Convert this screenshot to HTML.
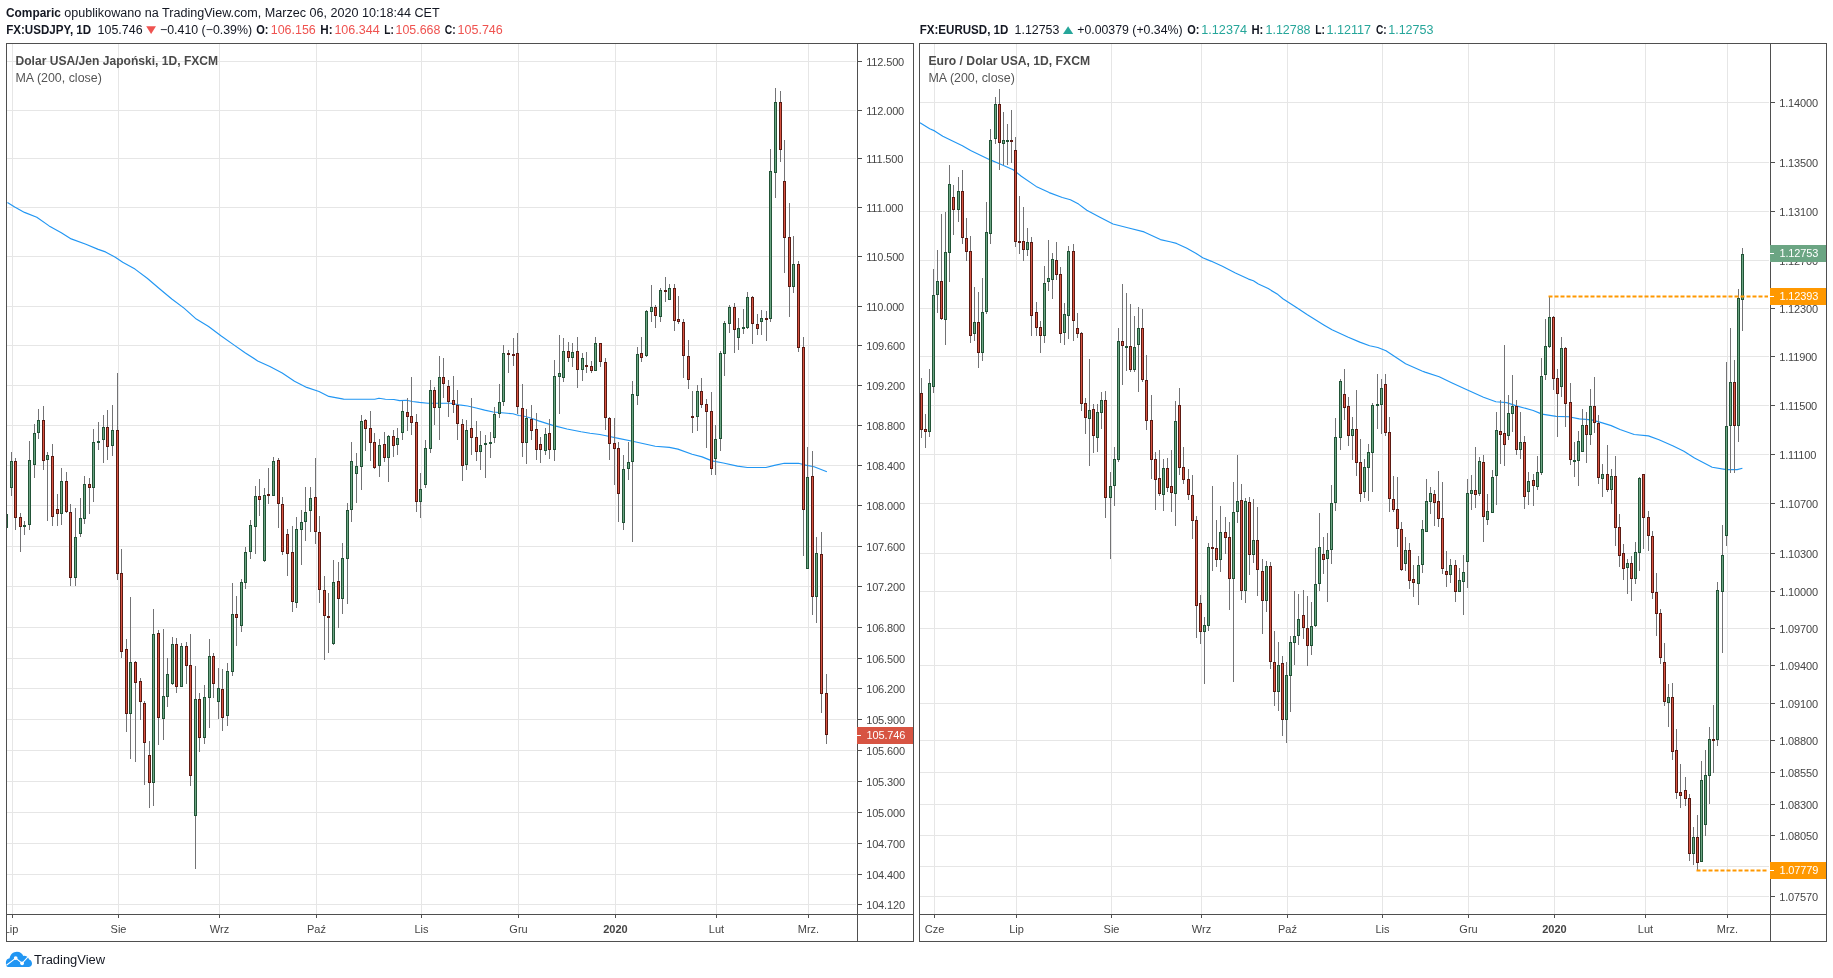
<!DOCTYPE html>
<html><head><meta charset="utf-8"><title>Comparic USDJPY EURUSD</title>
<style>
html,body{margin:0;padding:0;background:#fff;}
body{width:1833px;height:978px;overflow:hidden;position:relative;}
svg{position:absolute;left:0;top:0;will-change:transform;}
text{font-family:"Liberation Sans", Arial, sans-serif;}
.h1{font-size:12.5px;fill:#131722;}
.pl{font-size:11px;fill:#454545;letter-spacing:-0.15px;}
.tl{font-size:11px;fill:#454545;}
.tlb{font-size:11px;fill:#454545;font-weight:bold;}
.tt{font-size:12px;fill:#4a4a4a;font-weight:bold;}
.ma{font-size:12px;fill:#555;}
.h{font-size:12.5px;fill:#131722;}
.hb{font-size:12.5px;fill:#131722;font-weight:bold;}
.lg{font-size:12.5px;fill:#131722;}
</style></head><body>
<svg width="1833" height="978" viewBox="0 0 1833 978" shape-rendering="crispEdges">
<defs>
<clipPath id="cl"><rect x="7" y="44" width="850" height="870"/></clipPath>
<clipPath id="cr"><rect x="920" y="44" width="850" height="870"/></clipPath>
<clipPath id="tcl"><rect x="7" y="915" width="850" height="26"/></clipPath>
<clipPath id="tcr"><rect x="920" y="915" width="850" height="26"/></clipPath>
</defs>
<text x="6.0" y="16.7" class="hb" textLength="54.9" lengthAdjust="spacingAndGlyphs">Comparic</text>
<text x="64.3" y="16.7" class="h" textLength="375.3" lengthAdjust="spacingAndGlyphs">opublikowano na TradingView.com, Marzec 06, 2020 10:18:44 CET</text>
<text x="6.2" y="33.9" class="hb" textLength="85.0" lengthAdjust="spacingAndGlyphs">FX:USDJPY, 1D</text>
<text x="97.6" y="33.9" class="h" textLength="45.0" lengthAdjust="spacingAndGlyphs">105.746</text>
<polygon points="146.2,26.2 156,26.2 151.1,34" fill="#ef5350" shape-rendering="geometricPrecision"/>
<text x="160.0" y="33.9" class="h" textLength="92.1" lengthAdjust="spacingAndGlyphs">−0.410 (−0.39%)</text>
<text x="256.2" y="33.9" class="hb" textLength="12.3" lengthAdjust="spacingAndGlyphs">O:</text>
<text x="270.7" y="33.9" class="h" textLength="45.1" lengthAdjust="spacingAndGlyphs" style="fill:#ef5350">106.156</text>
<text x="320.3" y="33.9" class="hb" textLength="12.3" lengthAdjust="spacingAndGlyphs">H:</text>
<text x="334.4" y="33.9" class="h" textLength="45.3" lengthAdjust="spacingAndGlyphs" style="fill:#ef5350">106.344</text>
<text x="384.3" y="33.9" class="hb" textLength="9.5" lengthAdjust="spacingAndGlyphs">L:</text>
<text x="395.5" y="33.9" class="h" textLength="44.9" lengthAdjust="spacingAndGlyphs" style="fill:#ef5350">105.668</text>
<text x="444.8" y="33.9" class="hb" textLength="10.9" lengthAdjust="spacingAndGlyphs">C:</text>
<text x="457.5" y="33.9" class="h" textLength="45.3" lengthAdjust="spacingAndGlyphs" style="fill:#ef5350">105.746</text>
<text x="919.7" y="33.9" class="hb" textLength="88.7" lengthAdjust="spacingAndGlyphs">FX:EURUSD, 1D</text>
<text x="1014.6" y="33.9" class="h" textLength="44.8" lengthAdjust="spacingAndGlyphs">1.12753</text>
<polygon points="1068.1,26.2 1073.2,34 1063,34" fill="#26a69a" shape-rendering="geometricPrecision"/>
<text x="1077.2" y="33.9" class="h" textLength="105.4" lengthAdjust="spacingAndGlyphs">+0.00379 (+0.34%)</text>
<text x="1187.2" y="33.9" class="hb" textLength="12.2" lengthAdjust="spacingAndGlyphs">O:</text>
<text x="1201.3" y="33.9" class="h" textLength="45.7" lengthAdjust="spacingAndGlyphs" style="fill:#26a69a">1.12374</text>
<text x="1251.4" y="33.9" class="hb" textLength="11.9" lengthAdjust="spacingAndGlyphs">H:</text>
<text x="1265.5" y="33.9" class="h" textLength="45.0" lengthAdjust="spacingAndGlyphs" style="fill:#26a69a">1.12788</text>
<text x="1315.3" y="33.9" class="hb" textLength="9.7" lengthAdjust="spacingAndGlyphs">L:</text>
<text x="1326.5" y="33.9" class="h" textLength="44.6" lengthAdjust="spacingAndGlyphs" style="fill:#26a69a">1.12117</text>
<text x="1376.0" y="33.9" class="hb" textLength="10.7" lengthAdjust="spacingAndGlyphs">C:</text>
<text x="1388.2" y="33.9" class="h" textLength="45.3" lengthAdjust="spacingAndGlyphs" style="fill:#26a69a">1.12753</text>
<rect x="7" y="61" width="849" height="1" fill="#e6e6e6"/>
<rect x="7" y="110" width="849" height="1" fill="#e6e6e6"/>
<rect x="7" y="158" width="849" height="1" fill="#e6e6e6"/>
<rect x="7" y="207" width="849" height="1" fill="#e6e6e6"/>
<rect x="7" y="256" width="849" height="1" fill="#e6e6e6"/>
<rect x="7" y="306" width="849" height="1" fill="#e6e6e6"/>
<rect x="7" y="345" width="849" height="1" fill="#e6e6e6"/>
<rect x="7" y="385" width="849" height="1" fill="#e6e6e6"/>
<rect x="7" y="425" width="849" height="1" fill="#e6e6e6"/>
<rect x="7" y="465" width="849" height="1" fill="#e6e6e6"/>
<rect x="7" y="505" width="849" height="1" fill="#e6e6e6"/>
<rect x="7" y="546" width="849" height="1" fill="#e6e6e6"/>
<rect x="7" y="586" width="849" height="1" fill="#e6e6e6"/>
<rect x="7" y="627" width="849" height="1" fill="#e6e6e6"/>
<rect x="7" y="658" width="849" height="1" fill="#e6e6e6"/>
<rect x="7" y="688" width="849" height="1" fill="#e6e6e6"/>
<rect x="7" y="719" width="849" height="1" fill="#e6e6e6"/>
<rect x="7" y="750" width="849" height="1" fill="#e6e6e6"/>
<rect x="7" y="781" width="849" height="1" fill="#e6e6e6"/>
<rect x="7" y="812" width="849" height="1" fill="#e6e6e6"/>
<rect x="7" y="843" width="849" height="1" fill="#e6e6e6"/>
<rect x="7" y="874" width="849" height="1" fill="#e6e6e6"/>
<rect x="7" y="904" width="849" height="1" fill="#e6e6e6"/>
<rect x="12" y="44" width="1" height="870" fill="#e6e6e6"/>
<rect x="118" y="44" width="1" height="870" fill="#e6e6e6"/>
<rect x="219" y="44" width="1" height="870" fill="#e6e6e6"/>
<rect x="316" y="44" width="1" height="870" fill="#e6e6e6"/>
<rect x="421" y="44" width="1" height="870" fill="#e6e6e6"/>
<rect x="518" y="44" width="1" height="870" fill="#e6e6e6"/>
<rect x="615" y="44" width="1" height="870" fill="#e6e6e6"/>
<rect x="716" y="44" width="1" height="870" fill="#e6e6e6"/>
<rect x="808" y="44" width="1" height="870" fill="#e6e6e6"/>
<g clip-path="url(#cl)"><polyline points="7.4,202.6 14.7,207.0 24.5,212.4 36.8,217.3 49.1,225.9 61.3,232.8 71.2,238.9 85.9,244.3 98.2,249.4 105.5,251.9 115.3,257.3 122.7,262.2 135.0,269.1 147.2,278.2 159.5,288.7 171.8,299.0 184.0,308.1 196.3,319.1 208.6,326.5 220.9,335.8 233.1,344.4 245.4,353.0 257.7,360.9 269.9,366.5 282.2,373.1 294.5,381.2 306.7,387.4 319.0,391.5 328.8,396.4 343.6,399.1 374.8,399.2 379.0,398.2 385.4,399.2 393.9,399.5 399.6,400.6 406.7,400.3 412.3,401.5 419.4,402.4 428.0,403.2 450.6,403.2 459.1,404.9 467.7,406.0 476.2,408.0 484.7,410.1 493.2,412.0 501.7,412.7 513.0,413.8 518.7,415.5 524.4,416.2 531.5,418.3 538.6,420.9 552.8,425.4 567.0,429.0 581.1,431.8 590.0,433.2 599.9,434.5 608.4,436.3 618.4,438.4 632.6,441.3 643.9,443.8 655.2,446.2 669.4,447.4 677.9,449.1 692.1,454.3 702.1,456.9 712.0,460.9 723.3,463.0 737.5,466.1 747.4,467.5 765.9,467.5 774.4,465.4 784.3,463.3 798.5,463.3 805.6,465.1 814.1,466.8 826.9,471.8" fill="none" stroke="#2196f3" stroke-width="1.15" shape-rendering="geometricPrecision" stroke-linejoin="round"/></g>
<g clip-path="url(#cl)">
<rect x="6" y="505" width="1" height="27" fill="#737375"/>
<rect x="11" y="452" width="1" height="44" fill="#737375"/>
<rect x="15" y="458" width="1" height="72" fill="#737375"/>
<rect x="20" y="513" width="1" height="39" fill="#737375"/>
<rect x="24" y="521" width="1" height="14" fill="#737375"/>
<rect x="29" y="441" width="1" height="89" fill="#737375"/>
<rect x="34" y="424" width="1" height="54" fill="#737375"/>
<rect x="38" y="409" width="1" height="30" fill="#737375"/>
<rect x="43" y="406" width="1" height="64" fill="#737375"/>
<rect x="47" y="452" width="1" height="69" fill="#737375"/>
<rect x="52" y="444" width="1" height="82" fill="#737375"/>
<rect x="57" y="494" width="1" height="32" fill="#737375"/>
<rect x="61" y="468" width="1" height="57" fill="#737375"/>
<rect x="66" y="472" width="1" height="41" fill="#737375"/>
<rect x="70" y="504" width="1" height="82" fill="#737375"/>
<rect x="75" y="508" width="1" height="78" fill="#737375"/>
<rect x="80" y="498" width="1" height="39" fill="#737375"/>
<rect x="84" y="476" width="1" height="48" fill="#737375"/>
<rect x="89" y="478" width="1" height="36" fill="#737375"/>
<rect x="93" y="429" width="1" height="73" fill="#737375"/>
<rect x="98" y="422" width="1" height="28" fill="#737375"/>
<rect x="103" y="415" width="1" height="48" fill="#737375"/>
<rect x="107" y="410" width="1" height="50" fill="#737375"/>
<rect x="112" y="405" width="1" height="51" fill="#737375"/>
<rect x="117" y="373" width="1" height="207" fill="#737375"/>
<rect x="121" y="549" width="1" height="109" fill="#737375"/>
<rect x="126" y="639" width="1" height="93" fill="#737375"/>
<rect x="130" y="597" width="1" height="162" fill="#737375"/>
<rect x="135" y="661" width="1" height="101" fill="#737375"/>
<rect x="140" y="678" width="1" height="42" fill="#737375"/>
<rect x="144" y="701" width="1" height="84" fill="#737375"/>
<rect x="149" y="741" width="1" height="67" fill="#737375"/>
<rect x="153" y="609" width="1" height="197" fill="#737375"/>
<rect x="158" y="630" width="1" height="115" fill="#737375"/>
<rect x="163" y="629" width="1" height="111" fill="#737375"/>
<rect x="167" y="658" width="1" height="49" fill="#737375"/>
<rect x="172" y="637" width="1" height="48" fill="#737375"/>
<rect x="176" y="638" width="1" height="55" fill="#737375"/>
<rect x="181" y="643" width="1" height="44" fill="#737375"/>
<rect x="186" y="642" width="1" height="42" fill="#737375"/>
<rect x="190" y="634" width="1" height="152" fill="#737375"/>
<rect x="195" y="666" width="1" height="203" fill="#737375"/>
<rect x="199" y="693" width="1" height="59" fill="#737375"/>
<rect x="204" y="685" width="1" height="59" fill="#737375"/>
<rect x="209" y="639" width="1" height="89" fill="#737375"/>
<rect x="213" y="653" width="1" height="45" fill="#737375"/>
<rect x="218" y="668" width="1" height="51" fill="#737375"/>
<rect x="222" y="669" width="1" height="62" fill="#737375"/>
<rect x="227" y="663" width="1" height="63" fill="#737375"/>
<rect x="232" y="583" width="1" height="93" fill="#737375"/>
<rect x="236" y="596" width="1" height="50" fill="#737375"/>
<rect x="241" y="579" width="1" height="53" fill="#737375"/>
<rect x="245" y="547" width="1" height="42" fill="#737375"/>
<rect x="250" y="520" width="1" height="39" fill="#737375"/>
<rect x="255" y="486" width="1" height="68" fill="#737375"/>
<rect x="259" y="479" width="1" height="37" fill="#737375"/>
<rect x="264" y="488" width="1" height="74" fill="#737375"/>
<rect x="268" y="468" width="1" height="36" fill="#737375"/>
<rect x="273" y="457" width="1" height="39" fill="#737375"/>
<rect x="278" y="458" width="1" height="70" fill="#737375"/>
<rect x="282" y="497" width="1" height="58" fill="#737375"/>
<rect x="287" y="529" width="1" height="47" fill="#737375"/>
<rect x="292" y="526" width="1" height="86" fill="#737375"/>
<rect x="296" y="517" width="1" height="91" fill="#737375"/>
<rect x="301" y="510" width="1" height="55" fill="#737375"/>
<rect x="305" y="487" width="1" height="54" fill="#737375"/>
<rect x="310" y="487" width="1" height="45" fill="#737375"/>
<rect x="315" y="458" width="1" height="86" fill="#737375"/>
<rect x="319" y="516" width="1" height="87" fill="#737375"/>
<rect x="324" y="576" width="1" height="84" fill="#737375"/>
<rect x="328" y="593" width="1" height="60" fill="#737375"/>
<rect x="333" y="560" width="1" height="85" fill="#737375"/>
<rect x="338" y="562" width="1" height="66" fill="#737375"/>
<rect x="342" y="543" width="1" height="71" fill="#737375"/>
<rect x="347" y="503" width="1" height="101" fill="#737375"/>
<rect x="351" y="442" width="1" height="80" fill="#737375"/>
<rect x="356" y="453" width="1" height="50" fill="#737375"/>
<rect x="361" y="415" width="1" height="75" fill="#737375"/>
<rect x="365" y="419" width="1" height="32" fill="#737375"/>
<rect x="370" y="411" width="1" height="50" fill="#737375"/>
<rect x="374" y="433" width="1" height="36" fill="#737375"/>
<rect x="379" y="439" width="1" height="38" fill="#737375"/>
<rect x="384" y="432" width="1" height="30" fill="#737375"/>
<rect x="388" y="435" width="1" height="47" fill="#737375"/>
<rect x="393" y="430" width="1" height="27" fill="#737375"/>
<rect x="397" y="428" width="1" height="27" fill="#737375"/>
<rect x="402" y="401" width="1" height="39" fill="#737375"/>
<rect x="407" y="398" width="1" height="33" fill="#737375"/>
<rect x="411" y="377" width="1" height="58" fill="#737375"/>
<rect x="416" y="414" width="1" height="98" fill="#737375"/>
<rect x="420" y="473" width="1" height="45" fill="#737375"/>
<rect x="425" y="440" width="1" height="48" fill="#737375"/>
<rect x="430" y="380" width="1" height="73" fill="#737375"/>
<rect x="434" y="387" width="1" height="38" fill="#737375"/>
<rect x="439" y="356" width="1" height="84" fill="#737375"/>
<rect x="443" y="358" width="1" height="40" fill="#737375"/>
<rect x="448" y="380" width="1" height="37" fill="#737375"/>
<rect x="453" y="376" width="1" height="37" fill="#737375"/>
<rect x="457" y="390" width="1" height="50" fill="#737375"/>
<rect x="462" y="419" width="1" height="62" fill="#737375"/>
<rect x="466" y="420" width="1" height="50" fill="#737375"/>
<rect x="471" y="398" width="1" height="57" fill="#737375"/>
<rect x="476" y="421" width="1" height="40" fill="#737375"/>
<rect x="480" y="431" width="1" height="39" fill="#737375"/>
<rect x="485" y="435" width="1" height="43" fill="#737375"/>
<rect x="490" y="432" width="1" height="26" fill="#737375"/>
<rect x="494" y="407" width="1" height="36" fill="#737375"/>
<rect x="499" y="384" width="1" height="34" fill="#737375"/>
<rect x="503" y="345" width="1" height="61" fill="#737375"/>
<rect x="508" y="350" width="1" height="23" fill="#737375"/>
<rect x="513" y="338" width="1" height="28" fill="#737375"/>
<rect x="517" y="333" width="1" height="81" fill="#737375"/>
<rect x="522" y="384" width="1" height="73" fill="#737375"/>
<rect x="526" y="409" width="1" height="55" fill="#737375"/>
<rect x="531" y="405" width="1" height="35" fill="#737375"/>
<rect x="536" y="413" width="1" height="47" fill="#737375"/>
<rect x="540" y="437" width="1" height="26" fill="#737375"/>
<rect x="545" y="428" width="1" height="27" fill="#737375"/>
<rect x="549" y="419" width="1" height="40" fill="#737375"/>
<rect x="554" y="360" width="1" height="101" fill="#737375"/>
<rect x="559" y="335" width="1" height="79" fill="#737375"/>
<rect x="563" y="338" width="1" height="44" fill="#737375"/>
<rect x="568" y="342" width="1" height="20" fill="#737375"/>
<rect x="572" y="343" width="1" height="24" fill="#737375"/>
<rect x="577" y="337" width="1" height="51" fill="#737375"/>
<rect x="582" y="353" width="1" height="28" fill="#737375"/>
<rect x="586" y="352" width="1" height="21" fill="#737375"/>
<rect x="591" y="361" width="1" height="12" fill="#737375"/>
<rect x="595" y="337" width="1" height="34" fill="#737375"/>
<rect x="600" y="343" width="1" height="24" fill="#737375"/>
<rect x="605" y="358" width="1" height="72" fill="#737375"/>
<rect x="609" y="417" width="1" height="43" fill="#737375"/>
<rect x="614" y="418" width="1" height="67" fill="#737375"/>
<rect x="618" y="442" width="1" height="80" fill="#737375"/>
<rect x="623" y="455" width="1" height="75" fill="#737375"/>
<rect x="628" y="442" width="1" height="38" fill="#737375"/>
<rect x="632" y="381" width="1" height="161" fill="#737375"/>
<rect x="637" y="347" width="1" height="58" fill="#737375"/>
<rect x="641" y="337" width="1" height="25" fill="#737375"/>
<rect x="646" y="310" width="1" height="47" fill="#737375"/>
<rect x="651" y="285" width="1" height="37" fill="#737375"/>
<rect x="655" y="305" width="1" height="23" fill="#737375"/>
<rect x="660" y="288" width="1" height="34" fill="#737375"/>
<rect x="665" y="277" width="1" height="25" fill="#737375"/>
<rect x="669" y="284" width="1" height="16" fill="#737375"/>
<rect x="674" y="284" width="1" height="47" fill="#737375"/>
<rect x="678" y="296" width="1" height="28" fill="#737375"/>
<rect x="683" y="319" width="1" height="59" fill="#737375"/>
<rect x="688" y="340" width="1" height="49" fill="#737375"/>
<rect x="692" y="391" width="1" height="42" fill="#737375"/>
<rect x="697" y="385" width="1" height="46" fill="#737375"/>
<rect x="701" y="378" width="1" height="30" fill="#737375"/>
<rect x="706" y="399" width="1" height="49" fill="#737375"/>
<rect x="711" y="392" width="1" height="83" fill="#737375"/>
<rect x="715" y="425" width="1" height="50" fill="#737375"/>
<rect x="720" y="351" width="1" height="100" fill="#737375"/>
<rect x="724" y="321" width="1" height="55" fill="#737375"/>
<rect x="729" y="305" width="1" height="28" fill="#737375"/>
<rect x="734" y="303" width="1" height="50" fill="#737375"/>
<rect x="738" y="318" width="1" height="32" fill="#737375"/>
<rect x="743" y="309" width="1" height="25" fill="#737375"/>
<rect x="747" y="292" width="1" height="37" fill="#737375"/>
<rect x="752" y="296" width="1" height="48" fill="#737375"/>
<rect x="757" y="314" width="1" height="21" fill="#737375"/>
<rect x="761" y="310" width="1" height="25" fill="#737375"/>
<rect x="766" y="311" width="1" height="30" fill="#737375"/>
<rect x="770" y="149" width="1" height="173" fill="#737375"/>
<rect x="775" y="88" width="1" height="110" fill="#737375"/>
<rect x="780" y="91" width="1" height="71" fill="#737375"/>
<rect x="784" y="140" width="1" height="133" fill="#737375"/>
<rect x="789" y="203" width="1" height="114" fill="#737375"/>
<rect x="793" y="236" width="1" height="57" fill="#737375"/>
<rect x="798" y="261" width="1" height="91" fill="#737375"/>
<rect x="803" y="337" width="1" height="219" fill="#737375"/>
<rect x="807" y="447" width="1" height="122" fill="#737375"/>
<rect x="812" y="451" width="1" height="164" fill="#737375"/>
<rect x="816" y="537" width="1" height="86" fill="#737375"/>
<rect x="821" y="532" width="1" height="181" fill="#737375"/>
<rect x="826" y="674" width="1" height="70" fill="#737375"/>
<rect x="5" y="514" width="3" height="14" fill="#225437"/>
<rect x="6" y="515" width="1" height="12" fill="#6ba583"/>
<rect x="10" y="461" width="3" height="27" fill="#225437"/>
<rect x="11" y="462" width="1" height="25" fill="#6ba583"/>
<rect x="14" y="461" width="3" height="57" fill="#5b1a13"/>
<rect x="15" y="462" width="1" height="55" fill="#d75442"/>
<rect x="19" y="517" width="3" height="10" fill="#5b1a13"/>
<rect x="20" y="518" width="1" height="8" fill="#d75442"/>
<rect x="23" y="525" width="3" height="2" fill="#225437"/>
<rect x="28" y="460" width="3" height="65" fill="#225437"/>
<rect x="29" y="461" width="1" height="63" fill="#6ba583"/>
<rect x="33" y="433" width="3" height="32" fill="#225437"/>
<rect x="34" y="434" width="1" height="30" fill="#6ba583"/>
<rect x="37" y="420" width="3" height="13" fill="#225437"/>
<rect x="38" y="421" width="1" height="11" fill="#6ba583"/>
<rect x="42" y="420" width="3" height="41" fill="#5b1a13"/>
<rect x="43" y="421" width="1" height="39" fill="#d75442"/>
<rect x="46" y="455" width="3" height="5" fill="#225437"/>
<rect x="47" y="456" width="1" height="3" fill="#6ba583"/>
<rect x="51" y="456" width="3" height="61" fill="#5b1a13"/>
<rect x="52" y="457" width="1" height="59" fill="#d75442"/>
<rect x="56" y="509" width="3" height="5" fill="#5b1a13"/>
<rect x="57" y="510" width="1" height="3" fill="#d75442"/>
<rect x="60" y="481" width="3" height="33" fill="#225437"/>
<rect x="61" y="482" width="1" height="31" fill="#6ba583"/>
<rect x="65" y="481" width="3" height="31" fill="#5b1a13"/>
<rect x="66" y="482" width="1" height="29" fill="#d75442"/>
<rect x="69" y="512" width="3" height="66" fill="#5b1a13"/>
<rect x="70" y="513" width="1" height="64" fill="#d75442"/>
<rect x="74" y="537" width="3" height="41" fill="#225437"/>
<rect x="75" y="538" width="1" height="39" fill="#6ba583"/>
<rect x="79" y="518" width="3" height="16" fill="#225437"/>
<rect x="80" y="519" width="1" height="14" fill="#6ba583"/>
<rect x="83" y="484" width="3" height="35" fill="#225437"/>
<rect x="84" y="485" width="1" height="33" fill="#6ba583"/>
<rect x="88" y="484" width="3" height="4" fill="#5b1a13"/>
<rect x="89" y="485" width="1" height="2" fill="#d75442"/>
<rect x="92" y="442" width="3" height="46" fill="#225437"/>
<rect x="93" y="443" width="1" height="44" fill="#6ba583"/>
<rect x="97" y="441" width="3" height="2" fill="#225437"/>
<rect x="102" y="427" width="3" height="13" fill="#225437"/>
<rect x="103" y="428" width="1" height="11" fill="#6ba583"/>
<rect x="106" y="427" width="3" height="20" fill="#5b1a13"/>
<rect x="107" y="428" width="1" height="18" fill="#d75442"/>
<rect x="111" y="430" width="3" height="16" fill="#225437"/>
<rect x="112" y="431" width="1" height="14" fill="#6ba583"/>
<rect x="116" y="430" width="3" height="144" fill="#5b1a13"/>
<rect x="117" y="431" width="1" height="142" fill="#d75442"/>
<rect x="120" y="573" width="3" height="79" fill="#5b1a13"/>
<rect x="121" y="574" width="1" height="77" fill="#d75442"/>
<rect x="125" y="649" width="3" height="65" fill="#5b1a13"/>
<rect x="126" y="650" width="1" height="63" fill="#d75442"/>
<rect x="129" y="662" width="3" height="52" fill="#225437"/>
<rect x="130" y="663" width="1" height="50" fill="#6ba583"/>
<rect x="134" y="662" width="3" height="21" fill="#5b1a13"/>
<rect x="135" y="663" width="1" height="19" fill="#d75442"/>
<rect x="139" y="681" width="3" height="21" fill="#5b1a13"/>
<rect x="140" y="682" width="1" height="19" fill="#d75442"/>
<rect x="143" y="703" width="3" height="40" fill="#5b1a13"/>
<rect x="144" y="704" width="1" height="38" fill="#d75442"/>
<rect x="148" y="755" width="3" height="28" fill="#5b1a13"/>
<rect x="149" y="756" width="1" height="26" fill="#d75442"/>
<rect x="152" y="634" width="3" height="149" fill="#225437"/>
<rect x="153" y="635" width="1" height="147" fill="#6ba583"/>
<rect x="157" y="633" width="3" height="85" fill="#5b1a13"/>
<rect x="158" y="634" width="1" height="83" fill="#d75442"/>
<rect x="162" y="696" width="3" height="23" fill="#225437"/>
<rect x="163" y="697" width="1" height="21" fill="#6ba583"/>
<rect x="166" y="674" width="3" height="23" fill="#225437"/>
<rect x="167" y="675" width="1" height="21" fill="#6ba583"/>
<rect x="171" y="644" width="3" height="40" fill="#225437"/>
<rect x="172" y="645" width="1" height="38" fill="#6ba583"/>
<rect x="175" y="644" width="3" height="43" fill="#5b1a13"/>
<rect x="176" y="645" width="1" height="41" fill="#d75442"/>
<rect x="180" y="646" width="3" height="41" fill="#225437"/>
<rect x="181" y="647" width="1" height="39" fill="#6ba583"/>
<rect x="185" y="646" width="3" height="20" fill="#5b1a13"/>
<rect x="186" y="647" width="1" height="18" fill="#d75442"/>
<rect x="189" y="665" width="3" height="111" fill="#5b1a13"/>
<rect x="190" y="666" width="1" height="109" fill="#d75442"/>
<rect x="194" y="699" width="3" height="117" fill="#225437"/>
<rect x="195" y="700" width="1" height="115" fill="#6ba583"/>
<rect x="198" y="699" width="3" height="39" fill="#5b1a13"/>
<rect x="199" y="700" width="1" height="37" fill="#d75442"/>
<rect x="203" y="697" width="3" height="41" fill="#225437"/>
<rect x="204" y="698" width="1" height="39" fill="#6ba583"/>
<rect x="208" y="656" width="3" height="42" fill="#225437"/>
<rect x="209" y="657" width="1" height="40" fill="#6ba583"/>
<rect x="212" y="656" width="3" height="28" fill="#5b1a13"/>
<rect x="213" y="657" width="1" height="26" fill="#d75442"/>
<rect x="217" y="688" width="3" height="14" fill="#225437"/>
<rect x="218" y="689" width="1" height="12" fill="#6ba583"/>
<rect x="221" y="689" width="3" height="29" fill="#5b1a13"/>
<rect x="222" y="690" width="1" height="27" fill="#d75442"/>
<rect x="226" y="671" width="3" height="45" fill="#225437"/>
<rect x="227" y="672" width="1" height="43" fill="#6ba583"/>
<rect x="231" y="614" width="3" height="58" fill="#225437"/>
<rect x="232" y="615" width="1" height="56" fill="#6ba583"/>
<rect x="235" y="614" width="3" height="4" fill="#5b1a13"/>
<rect x="236" y="615" width="1" height="2" fill="#d75442"/>
<rect x="240" y="582" width="3" height="44" fill="#225437"/>
<rect x="241" y="583" width="1" height="42" fill="#6ba583"/>
<rect x="244" y="552" width="3" height="31" fill="#225437"/>
<rect x="245" y="553" width="1" height="29" fill="#6ba583"/>
<rect x="249" y="525" width="3" height="27" fill="#225437"/>
<rect x="250" y="526" width="1" height="25" fill="#6ba583"/>
<rect x="254" y="496" width="3" height="31" fill="#225437"/>
<rect x="255" y="497" width="1" height="29" fill="#6ba583"/>
<rect x="258" y="496" width="3" height="4" fill="#5b1a13"/>
<rect x="259" y="497" width="1" height="2" fill="#d75442"/>
<rect x="263" y="495" width="3" height="66" fill="#225437"/>
<rect x="264" y="496" width="1" height="64" fill="#6ba583"/>
<rect x="267" y="494" width="3" height="2" fill="#5b1a13"/>
<rect x="272" y="461" width="3" height="35" fill="#225437"/>
<rect x="273" y="462" width="1" height="33" fill="#6ba583"/>
<rect x="277" y="460" width="3" height="44" fill="#5b1a13"/>
<rect x="278" y="461" width="1" height="42" fill="#d75442"/>
<rect x="281" y="504" width="3" height="48" fill="#5b1a13"/>
<rect x="282" y="505" width="1" height="46" fill="#d75442"/>
<rect x="286" y="534" width="3" height="20" fill="#5b1a13"/>
<rect x="287" y="535" width="1" height="18" fill="#d75442"/>
<rect x="291" y="552" width="3" height="50" fill="#5b1a13"/>
<rect x="292" y="553" width="1" height="48" fill="#d75442"/>
<rect x="295" y="529" width="3" height="74" fill="#225437"/>
<rect x="296" y="530" width="1" height="72" fill="#6ba583"/>
<rect x="300" y="522" width="3" height="8" fill="#225437"/>
<rect x="301" y="523" width="1" height="6" fill="#6ba583"/>
<rect x="304" y="512" width="3" height="10" fill="#225437"/>
<rect x="305" y="513" width="1" height="8" fill="#6ba583"/>
<rect x="309" y="498" width="3" height="13" fill="#225437"/>
<rect x="310" y="499" width="1" height="11" fill="#6ba583"/>
<rect x="314" y="497" width="3" height="35" fill="#5b1a13"/>
<rect x="315" y="498" width="1" height="33" fill="#d75442"/>
<rect x="318" y="532" width="3" height="58" fill="#5b1a13"/>
<rect x="319" y="533" width="1" height="56" fill="#d75442"/>
<rect x="323" y="590" width="3" height="26" fill="#5b1a13"/>
<rect x="324" y="591" width="1" height="24" fill="#d75442"/>
<rect x="327" y="616" width="3" height="2" fill="#5b1a13"/>
<rect x="332" y="582" width="3" height="62" fill="#225437"/>
<rect x="333" y="583" width="1" height="60" fill="#6ba583"/>
<rect x="337" y="581" width="3" height="18" fill="#5b1a13"/>
<rect x="338" y="582" width="1" height="16" fill="#d75442"/>
<rect x="341" y="558" width="3" height="41" fill="#225437"/>
<rect x="342" y="559" width="1" height="39" fill="#6ba583"/>
<rect x="346" y="510" width="3" height="49" fill="#225437"/>
<rect x="347" y="511" width="1" height="47" fill="#6ba583"/>
<rect x="350" y="461" width="3" height="49" fill="#225437"/>
<rect x="351" y="462" width="1" height="47" fill="#6ba583"/>
<rect x="355" y="466" width="3" height="8" fill="#225437"/>
<rect x="356" y="467" width="1" height="6" fill="#6ba583"/>
<rect x="360" y="421" width="3" height="46" fill="#225437"/>
<rect x="361" y="422" width="1" height="44" fill="#6ba583"/>
<rect x="364" y="420" width="3" height="9" fill="#5b1a13"/>
<rect x="365" y="421" width="1" height="7" fill="#d75442"/>
<rect x="369" y="428" width="3" height="15" fill="#5b1a13"/>
<rect x="370" y="429" width="1" height="13" fill="#d75442"/>
<rect x="373" y="442" width="3" height="26" fill="#5b1a13"/>
<rect x="374" y="443" width="1" height="24" fill="#d75442"/>
<rect x="378" y="445" width="3" height="21" fill="#225437"/>
<rect x="379" y="446" width="1" height="19" fill="#6ba583"/>
<rect x="383" y="444" width="3" height="14" fill="#5b1a13"/>
<rect x="384" y="445" width="1" height="12" fill="#d75442"/>
<rect x="387" y="436" width="3" height="22" fill="#225437"/>
<rect x="388" y="437" width="1" height="20" fill="#6ba583"/>
<rect x="392" y="436" width="3" height="10" fill="#5b1a13"/>
<rect x="393" y="437" width="1" height="8" fill="#d75442"/>
<rect x="396" y="438" width="3" height="7" fill="#225437"/>
<rect x="397" y="439" width="1" height="5" fill="#6ba583"/>
<rect x="401" y="411" width="3" height="22" fill="#225437"/>
<rect x="402" y="412" width="1" height="20" fill="#6ba583"/>
<rect x="406" y="412" width="3" height="5" fill="#5b1a13"/>
<rect x="407" y="413" width="1" height="3" fill="#d75442"/>
<rect x="410" y="416" width="3" height="7" fill="#5b1a13"/>
<rect x="411" y="417" width="1" height="5" fill="#d75442"/>
<rect x="415" y="422" width="3" height="80" fill="#5b1a13"/>
<rect x="416" y="423" width="1" height="78" fill="#d75442"/>
<rect x="419" y="489" width="3" height="13" fill="#225437"/>
<rect x="420" y="490" width="1" height="11" fill="#6ba583"/>
<rect x="424" y="448" width="3" height="37" fill="#225437"/>
<rect x="425" y="449" width="1" height="35" fill="#6ba583"/>
<rect x="429" y="390" width="3" height="59" fill="#225437"/>
<rect x="430" y="391" width="1" height="57" fill="#6ba583"/>
<rect x="433" y="390" width="3" height="18" fill="#5b1a13"/>
<rect x="434" y="391" width="1" height="16" fill="#d75442"/>
<rect x="438" y="377" width="3" height="31" fill="#225437"/>
<rect x="439" y="378" width="1" height="29" fill="#6ba583"/>
<rect x="442" y="377" width="3" height="7" fill="#5b1a13"/>
<rect x="443" y="378" width="1" height="5" fill="#d75442"/>
<rect x="447" y="386" width="3" height="16" fill="#5b1a13"/>
<rect x="448" y="387" width="1" height="14" fill="#d75442"/>
<rect x="452" y="400" width="3" height="5" fill="#5b1a13"/>
<rect x="453" y="401" width="1" height="3" fill="#d75442"/>
<rect x="456" y="405" width="3" height="19" fill="#5b1a13"/>
<rect x="457" y="406" width="1" height="17" fill="#d75442"/>
<rect x="461" y="424" width="3" height="42" fill="#5b1a13"/>
<rect x="462" y="425" width="1" height="40" fill="#d75442"/>
<rect x="465" y="430" width="3" height="35" fill="#225437"/>
<rect x="466" y="431" width="1" height="33" fill="#6ba583"/>
<rect x="470" y="428" width="3" height="10" fill="#5b1a13"/>
<rect x="471" y="429" width="1" height="8" fill="#d75442"/>
<rect x="475" y="437" width="3" height="15" fill="#5b1a13"/>
<rect x="476" y="438" width="1" height="13" fill="#d75442"/>
<rect x="479" y="445" width="3" height="7" fill="#225437"/>
<rect x="480" y="446" width="1" height="5" fill="#6ba583"/>
<rect x="484" y="443" width="3" height="2" fill="#225437"/>
<rect x="489" y="442" width="3" height="2" fill="#225437"/>
<rect x="493" y="414" width="3" height="24" fill="#225437"/>
<rect x="494" y="415" width="1" height="22" fill="#6ba583"/>
<rect x="498" y="402" width="3" height="12" fill="#225437"/>
<rect x="499" y="403" width="1" height="10" fill="#6ba583"/>
<rect x="502" y="353" width="3" height="49" fill="#225437"/>
<rect x="503" y="354" width="1" height="47" fill="#6ba583"/>
<rect x="507" y="353" width="3" height="2" fill="#5b1a13"/>
<rect x="512" y="354" width="3" height="2" fill="#5b1a13"/>
<rect x="516" y="353" width="3" height="54" fill="#5b1a13"/>
<rect x="517" y="354" width="1" height="52" fill="#d75442"/>
<rect x="521" y="408" width="3" height="35" fill="#5b1a13"/>
<rect x="522" y="409" width="1" height="33" fill="#d75442"/>
<rect x="525" y="418" width="3" height="25" fill="#225437"/>
<rect x="526" y="419" width="1" height="23" fill="#6ba583"/>
<rect x="530" y="419" width="3" height="12" fill="#5b1a13"/>
<rect x="531" y="420" width="1" height="10" fill="#d75442"/>
<rect x="535" y="429" width="3" height="21" fill="#5b1a13"/>
<rect x="536" y="430" width="1" height="19" fill="#d75442"/>
<rect x="539" y="444" width="3" height="6" fill="#5b1a13"/>
<rect x="540" y="445" width="1" height="4" fill="#d75442"/>
<rect x="544" y="434" width="3" height="17" fill="#225437"/>
<rect x="545" y="435" width="1" height="15" fill="#6ba583"/>
<rect x="548" y="433" width="3" height="17" fill="#5b1a13"/>
<rect x="549" y="434" width="1" height="15" fill="#d75442"/>
<rect x="553" y="376" width="3" height="74" fill="#225437"/>
<rect x="554" y="377" width="1" height="72" fill="#6ba583"/>
<rect x="558" y="373" width="3" height="4" fill="#225437"/>
<rect x="559" y="374" width="1" height="2" fill="#6ba583"/>
<rect x="562" y="351" width="3" height="27" fill="#225437"/>
<rect x="563" y="352" width="1" height="25" fill="#6ba583"/>
<rect x="567" y="351" width="3" height="7" fill="#5b1a13"/>
<rect x="568" y="352" width="1" height="5" fill="#d75442"/>
<rect x="571" y="352" width="3" height="6" fill="#225437"/>
<rect x="572" y="353" width="1" height="4" fill="#6ba583"/>
<rect x="576" y="351" width="3" height="19" fill="#5b1a13"/>
<rect x="577" y="352" width="1" height="17" fill="#d75442"/>
<rect x="581" y="358" width="3" height="12" fill="#225437"/>
<rect x="582" y="359" width="1" height="10" fill="#6ba583"/>
<rect x="585" y="365" width="3" height="2" fill="#5b1a13"/>
<rect x="590" y="366" width="3" height="5" fill="#5b1a13"/>
<rect x="591" y="367" width="1" height="3" fill="#d75442"/>
<rect x="594" y="343" width="3" height="28" fill="#225437"/>
<rect x="595" y="344" width="1" height="26" fill="#6ba583"/>
<rect x="599" y="343" width="3" height="19" fill="#5b1a13"/>
<rect x="600" y="344" width="1" height="17" fill="#d75442"/>
<rect x="604" y="362" width="3" height="56" fill="#5b1a13"/>
<rect x="605" y="363" width="1" height="54" fill="#d75442"/>
<rect x="608" y="418" width="3" height="26" fill="#5b1a13"/>
<rect x="609" y="419" width="1" height="24" fill="#d75442"/>
<rect x="613" y="443" width="3" height="6" fill="#5b1a13"/>
<rect x="614" y="444" width="1" height="4" fill="#d75442"/>
<rect x="617" y="448" width="3" height="46" fill="#5b1a13"/>
<rect x="618" y="449" width="1" height="44" fill="#d75442"/>
<rect x="622" y="469" width="3" height="54" fill="#225437"/>
<rect x="623" y="470" width="1" height="52" fill="#6ba583"/>
<rect x="627" y="462" width="3" height="7" fill="#225437"/>
<rect x="628" y="463" width="1" height="5" fill="#6ba583"/>
<rect x="631" y="394" width="3" height="68" fill="#225437"/>
<rect x="632" y="395" width="1" height="66" fill="#6ba583"/>
<rect x="636" y="354" width="3" height="42" fill="#225437"/>
<rect x="637" y="355" width="1" height="40" fill="#6ba583"/>
<rect x="640" y="353" width="3" height="5" fill="#5b1a13"/>
<rect x="641" y="354" width="1" height="3" fill="#d75442"/>
<rect x="645" y="311" width="3" height="45" fill="#225437"/>
<rect x="646" y="312" width="1" height="43" fill="#6ba583"/>
<rect x="650" y="307" width="3" height="5" fill="#225437"/>
<rect x="651" y="308" width="1" height="3" fill="#6ba583"/>
<rect x="654" y="307" width="3" height="9" fill="#5b1a13"/>
<rect x="655" y="308" width="1" height="7" fill="#d75442"/>
<rect x="659" y="290" width="3" height="27" fill="#225437"/>
<rect x="660" y="291" width="1" height="25" fill="#6ba583"/>
<rect x="664" y="290" width="3" height="2" fill="#5b1a13"/>
<rect x="668" y="288" width="3" height="12" fill="#225437"/>
<rect x="669" y="289" width="1" height="10" fill="#6ba583"/>
<rect x="673" y="288" width="3" height="33" fill="#5b1a13"/>
<rect x="674" y="289" width="1" height="31" fill="#d75442"/>
<rect x="677" y="319" width="3" height="3" fill="#5b1a13"/>
<rect x="678" y="320" width="1" height="1" fill="#d75442"/>
<rect x="682" y="322" width="3" height="34" fill="#5b1a13"/>
<rect x="683" y="323" width="1" height="32" fill="#d75442"/>
<rect x="687" y="356" width="3" height="24" fill="#5b1a13"/>
<rect x="688" y="357" width="1" height="22" fill="#d75442"/>
<rect x="691" y="416" width="3" height="2" fill="#5b1a13"/>
<rect x="696" y="391" width="3" height="26" fill="#225437"/>
<rect x="697" y="392" width="1" height="24" fill="#6ba583"/>
<rect x="700" y="391" width="3" height="14" fill="#5b1a13"/>
<rect x="701" y="392" width="1" height="12" fill="#d75442"/>
<rect x="705" y="404" width="3" height="8" fill="#5b1a13"/>
<rect x="706" y="405" width="1" height="6" fill="#d75442"/>
<rect x="710" y="411" width="3" height="58" fill="#5b1a13"/>
<rect x="711" y="412" width="1" height="56" fill="#d75442"/>
<rect x="714" y="439" width="3" height="20" fill="#225437"/>
<rect x="715" y="440" width="1" height="18" fill="#6ba583"/>
<rect x="719" y="353" width="3" height="86" fill="#225437"/>
<rect x="720" y="354" width="1" height="84" fill="#6ba583"/>
<rect x="723" y="323" width="3" height="31" fill="#225437"/>
<rect x="724" y="324" width="1" height="29" fill="#6ba583"/>
<rect x="728" y="307" width="3" height="17" fill="#225437"/>
<rect x="729" y="308" width="1" height="15" fill="#6ba583"/>
<rect x="733" y="307" width="3" height="23" fill="#5b1a13"/>
<rect x="734" y="308" width="1" height="21" fill="#d75442"/>
<rect x="737" y="328" width="3" height="10" fill="#225437"/>
<rect x="738" y="329" width="1" height="8" fill="#6ba583"/>
<rect x="742" y="327" width="3" height="2" fill="#225437"/>
<rect x="746" y="297" width="3" height="31" fill="#225437"/>
<rect x="747" y="298" width="1" height="29" fill="#6ba583"/>
<rect x="751" y="297" width="3" height="27" fill="#5b1a13"/>
<rect x="752" y="298" width="1" height="25" fill="#d75442"/>
<rect x="756" y="324" width="3" height="5" fill="#5b1a13"/>
<rect x="757" y="325" width="1" height="3" fill="#d75442"/>
<rect x="760" y="318" width="3" height="4" fill="#225437"/>
<rect x="761" y="319" width="1" height="2" fill="#6ba583"/>
<rect x="765" y="318" width="3" height="2" fill="#5b1a13"/>
<rect x="769" y="171" width="3" height="148" fill="#225437"/>
<rect x="770" y="172" width="1" height="146" fill="#6ba583"/>
<rect x="774" y="102" width="3" height="71" fill="#225437"/>
<rect x="775" y="103" width="1" height="69" fill="#6ba583"/>
<rect x="779" y="102" width="3" height="48" fill="#5b1a13"/>
<rect x="780" y="103" width="1" height="46" fill="#d75442"/>
<rect x="783" y="181" width="3" height="57" fill="#5b1a13"/>
<rect x="784" y="182" width="1" height="55" fill="#d75442"/>
<rect x="788" y="237" width="3" height="50" fill="#5b1a13"/>
<rect x="789" y="238" width="1" height="48" fill="#d75442"/>
<rect x="792" y="264" width="3" height="23" fill="#225437"/>
<rect x="793" y="265" width="1" height="21" fill="#6ba583"/>
<rect x="797" y="264" width="3" height="84" fill="#5b1a13"/>
<rect x="798" y="265" width="1" height="82" fill="#d75442"/>
<rect x="802" y="347" width="3" height="163" fill="#5b1a13"/>
<rect x="803" y="348" width="1" height="161" fill="#d75442"/>
<rect x="806" y="477" width="3" height="92" fill="#225437"/>
<rect x="807" y="478" width="1" height="90" fill="#6ba583"/>
<rect x="811" y="476" width="3" height="121" fill="#5b1a13"/>
<rect x="812" y="477" width="1" height="119" fill="#d75442"/>
<rect x="815" y="553" width="3" height="44" fill="#225437"/>
<rect x="816" y="554" width="1" height="42" fill="#6ba583"/>
<rect x="820" y="554" width="3" height="140" fill="#5b1a13"/>
<rect x="821" y="555" width="1" height="138" fill="#d75442"/>
<rect x="825" y="693" width="3" height="42" fill="#5b1a13"/>
<rect x="826" y="694" width="1" height="40" fill="#d75442"/>
</g>
<rect x="6" y="43" width="908" height="1" fill="#4f4f4f"/>
<rect x="6" y="941" width="908" height="1" fill="#4f4f4f"/>
<rect x="6" y="43" width="1" height="899" fill="#4f4f4f"/>
<rect x="913" y="43" width="1" height="899" fill="#4f4f4f"/>
<rect x="857" y="43" width="1" height="899" fill="#4f4f4f"/>
<rect x="6" y="914" width="908" height="1" fill="#4f4f4f"/>
<rect x="858" y="61" width="4" height="1" fill="#4f4f4f"/>
<text x="866.2" y="66" class="pl">112.500</text>
<rect x="858" y="110" width="4" height="1" fill="#4f4f4f"/>
<text x="866.2" y="115" class="pl">112.000</text>
<rect x="858" y="158" width="4" height="1" fill="#4f4f4f"/>
<text x="866.2" y="163" class="pl">111.500</text>
<rect x="858" y="207" width="4" height="1" fill="#4f4f4f"/>
<text x="866.2" y="212" class="pl">111.000</text>
<rect x="858" y="256" width="4" height="1" fill="#4f4f4f"/>
<text x="866.2" y="261" class="pl">110.500</text>
<rect x="858" y="306" width="4" height="1" fill="#4f4f4f"/>
<text x="866.2" y="311" class="pl">110.000</text>
<rect x="858" y="345" width="4" height="1" fill="#4f4f4f"/>
<text x="866.2" y="350" class="pl">109.600</text>
<rect x="858" y="385" width="4" height="1" fill="#4f4f4f"/>
<text x="866.2" y="390" class="pl">109.200</text>
<rect x="858" y="425" width="4" height="1" fill="#4f4f4f"/>
<text x="866.2" y="430" class="pl">108.800</text>
<rect x="858" y="465" width="4" height="1" fill="#4f4f4f"/>
<text x="866.2" y="470" class="pl">108.400</text>
<rect x="858" y="505" width="4" height="1" fill="#4f4f4f"/>
<text x="866.2" y="510" class="pl">108.000</text>
<rect x="858" y="546" width="4" height="1" fill="#4f4f4f"/>
<text x="866.2" y="551" class="pl">107.600</text>
<rect x="858" y="586" width="4" height="1" fill="#4f4f4f"/>
<text x="866.2" y="591" class="pl">107.200</text>
<rect x="858" y="627" width="4" height="1" fill="#4f4f4f"/>
<text x="866.2" y="632" class="pl">106.800</text>
<rect x="858" y="658" width="4" height="1" fill="#4f4f4f"/>
<text x="866.2" y="663" class="pl">106.500</text>
<rect x="858" y="688" width="4" height="1" fill="#4f4f4f"/>
<text x="866.2" y="693" class="pl">106.200</text>
<rect x="858" y="719" width="4" height="1" fill="#4f4f4f"/>
<text x="866.2" y="724" class="pl">105.900</text>
<rect x="858" y="750" width="4" height="1" fill="#4f4f4f"/>
<text x="866.2" y="755" class="pl">105.600</text>
<rect x="858" y="781" width="4" height="1" fill="#4f4f4f"/>
<text x="866.2" y="786" class="pl">105.300</text>
<rect x="858" y="812" width="4" height="1" fill="#4f4f4f"/>
<text x="866.2" y="817" class="pl">105.000</text>
<rect x="858" y="843" width="4" height="1" fill="#4f4f4f"/>
<text x="866.2" y="848" class="pl">104.700</text>
<rect x="858" y="874" width="4" height="1" fill="#4f4f4f"/>
<text x="866.2" y="879" class="pl">104.400</text>
<rect x="858" y="904" width="4" height="1" fill="#4f4f4f"/>
<text x="866.2" y="909" class="pl">104.120</text>
<rect x="12" y="915" width="1" height="3" fill="#4f4f4f"/>
<rect x="118" y="915" width="1" height="3" fill="#4f4f4f"/>
<rect x="219" y="915" width="1" height="3" fill="#4f4f4f"/>
<rect x="316" y="915" width="1" height="3" fill="#4f4f4f"/>
<rect x="421" y="915" width="1" height="3" fill="#4f4f4f"/>
<rect x="518" y="915" width="1" height="3" fill="#4f4f4f"/>
<rect x="615" y="915" width="1" height="3" fill="#4f4f4f"/>
<rect x="716" y="915" width="1" height="3" fill="#4f4f4f"/>
<rect x="808" y="915" width="1" height="3" fill="#4f4f4f"/>
<text x="11.0" y="933" class="tl" text-anchor="middle" clip-path="url(#tcl)">Lip</text>
<text x="118.5" y="933" class="tl" text-anchor="middle" clip-path="url(#tcl)">Sie</text>
<text x="219.5" y="933" class="tl" text-anchor="middle" clip-path="url(#tcl)">Wrz</text>
<text x="316.5" y="933" class="tl" text-anchor="middle" clip-path="url(#tcl)">Paź</text>
<text x="421.5" y="933" class="tl" text-anchor="middle" clip-path="url(#tcl)">Lis</text>
<text x="518.5" y="933" class="tl" text-anchor="middle" clip-path="url(#tcl)">Gru</text>
<text x="615.5" y="933" class="tlb" text-anchor="middle" clip-path="url(#tcl)">2020</text>
<text x="716.5" y="933" class="tl" text-anchor="middle" clip-path="url(#tcl)">Lut</text>
<text x="808.5" y="933" class="tl" text-anchor="middle" clip-path="url(#tcl)">Mrz.</text>
<text x="15.5" y="64.7" class="tt" textLength="202.6" lengthAdjust="spacingAndGlyphs">Dolar USA/Jen Japoński, 1D, FXCM</text>
<text x="15.5" y="81.7" class="ma" textLength="86.3" lengthAdjust="spacingAndGlyphs">MA (200, close)</text>
<rect x="920" y="102" width="849" height="1" fill="#e6e6e6"/>
<rect x="920" y="162" width="849" height="1" fill="#e6e6e6"/>
<rect x="920" y="211" width="849" height="1" fill="#e6e6e6"/>
<rect x="920" y="260" width="849" height="1" fill="#e6e6e6"/>
<rect x="920" y="308" width="849" height="1" fill="#e6e6e6"/>
<rect x="920" y="356" width="849" height="1" fill="#e6e6e6"/>
<rect x="920" y="405" width="849" height="1" fill="#e6e6e6"/>
<rect x="920" y="454" width="849" height="1" fill="#e6e6e6"/>
<rect x="920" y="503" width="849" height="1" fill="#e6e6e6"/>
<rect x="920" y="553" width="849" height="1" fill="#e6e6e6"/>
<rect x="920" y="591" width="849" height="1" fill="#e6e6e6"/>
<rect x="920" y="628" width="849" height="1" fill="#e6e6e6"/>
<rect x="920" y="665" width="849" height="1" fill="#e6e6e6"/>
<rect x="920" y="703" width="849" height="1" fill="#e6e6e6"/>
<rect x="920" y="740" width="849" height="1" fill="#e6e6e6"/>
<rect x="920" y="772" width="849" height="1" fill="#e6e6e6"/>
<rect x="920" y="804" width="849" height="1" fill="#e6e6e6"/>
<rect x="920" y="835" width="849" height="1" fill="#e6e6e6"/>
<rect x="920" y="866" width="849" height="1" fill="#e6e6e6"/>
<rect x="920" y="896" width="849" height="1" fill="#e6e6e6"/>
<rect x="934" y="44" width="1" height="870" fill="#e6e6e6"/>
<rect x="1016" y="44" width="1" height="870" fill="#e6e6e6"/>
<rect x="1111" y="44" width="1" height="870" fill="#e6e6e6"/>
<rect x="1201" y="44" width="1" height="870" fill="#e6e6e6"/>
<rect x="1287" y="44" width="1" height="870" fill="#e6e6e6"/>
<rect x="1382" y="44" width="1" height="870" fill="#e6e6e6"/>
<rect x="1468" y="44" width="1" height="870" fill="#e6e6e6"/>
<rect x="1554" y="44" width="1" height="870" fill="#e6e6e6"/>
<rect x="1645" y="44" width="1" height="870" fill="#e6e6e6"/>
<rect x="1727" y="44" width="1" height="870" fill="#e6e6e6"/>
<g clip-path="url(#cr)"><polyline points="920.0,122.8 921.2,123.4 929.7,128.8 934.6,130.9 942.8,136.2 951.0,140.3 962.4,145.7 970.6,150.6 980.4,155.3 990.3,159.9 1000.1,164.0 1013.2,169.7 1021.3,176.3 1036.1,186.4 1049.2,192.6 1062.3,197.5 1070.4,199.7 1078.6,204.1 1086.8,210.3 1099.9,217.2 1113.0,224.0 1127.7,227.8 1144.1,231.9 1160.4,239.6 1170.0,241.8 1176.5,243.4 1186.4,248.0 1196.2,253.4 1202.7,257.8 1210.9,261.1 1222.4,266.3 1235.4,272.9 1248.5,279.1 1253.4,280.7 1258.4,284.0 1268.2,288.6 1278.0,294.6 1282.9,298.7 1297.6,308.2 1307.4,314.8 1323.8,324.9 1332.0,329.8 1348.3,337.2 1359.8,342.1 1369.6,345.7 1377.8,347.5 1386.0,350.7 1395.8,357.3 1405.6,363.8 1422.0,371.0 1425.0,372.1 1439.2,376.8 1451.6,382.7 1465.8,389.3 1483.5,397.2 1495.9,401.7 1506.6,402.6 1517.2,406.1 1533.2,410.5 1542.0,414.1 1556.2,416.4 1568.6,416.7 1579.3,418.9 1591.7,419.9 1602.3,422.9 1611.2,425.6 1620.0,429.5 1634.2,434.5 1648.4,435.9 1659.0,439.8 1673.2,446.0 1683.9,451.3 1694.5,457.9 1712.2,467.3 1726.4,469.6 1737.1,469.6 1742.4,468.2" fill="none" stroke="#2196f3" stroke-width="1.15" shape-rendering="geometricPrecision" stroke-linejoin="round"/></g>
<g clip-path="url(#cr)">
<rect x="921" y="378" width="1" height="60" fill="#737375"/>
<rect x="925" y="414" width="1" height="34" fill="#737375"/>
<rect x="929" y="369" width="1" height="68" fill="#737375"/>
<rect x="933" y="269" width="1" height="124" fill="#737375"/>
<rect x="937" y="250" width="1" height="63" fill="#737375"/>
<rect x="941" y="214" width="1" height="106" fill="#737375"/>
<rect x="945" y="212" width="1" height="133" fill="#737375"/>
<rect x="949" y="165" width="1" height="117" fill="#737375"/>
<rect x="953" y="185" width="1" height="50" fill="#737375"/>
<rect x="958" y="177" width="1" height="45" fill="#737375"/>
<rect x="962" y="170" width="1" height="74" fill="#737375"/>
<rect x="966" y="218" width="1" height="43" fill="#737375"/>
<rect x="970" y="236" width="1" height="107" fill="#737375"/>
<rect x="974" y="287" width="1" height="54" fill="#737375"/>
<rect x="978" y="292" width="1" height="76" fill="#737375"/>
<rect x="982" y="278" width="1" height="83" fill="#737375"/>
<rect x="986" y="202" width="1" height="112" fill="#737375"/>
<rect x="990" y="129" width="1" height="115" fill="#737375"/>
<rect x="995" y="97" width="1" height="47" fill="#737375"/>
<rect x="999" y="89" width="1" height="81" fill="#737375"/>
<rect x="1003" y="112" width="1" height="53" fill="#737375"/>
<rect x="1007" y="124" width="1" height="41" fill="#737375"/>
<rect x="1011" y="110" width="1" height="53" fill="#737375"/>
<rect x="1015" y="137" width="1" height="110" fill="#737375"/>
<rect x="1019" y="196" width="1" height="58" fill="#737375"/>
<rect x="1023" y="207" width="1" height="54" fill="#737375"/>
<rect x="1027" y="228" width="1" height="28" fill="#737375"/>
<rect x="1031" y="237" width="1" height="99" fill="#737375"/>
<rect x="1036" y="302" width="1" height="34" fill="#737375"/>
<rect x="1040" y="321" width="1" height="32" fill="#737375"/>
<rect x="1044" y="266" width="1" height="77" fill="#737375"/>
<rect x="1048" y="240" width="1" height="51" fill="#737375"/>
<rect x="1052" y="253" width="1" height="46" fill="#737375"/>
<rect x="1056" y="242" width="1" height="38" fill="#737375"/>
<rect x="1060" y="267" width="1" height="76" fill="#737375"/>
<rect x="1064" y="303" width="1" height="42" fill="#737375"/>
<rect x="1068" y="246" width="1" height="93" fill="#737375"/>
<rect x="1073" y="244" width="1" height="97" fill="#737375"/>
<rect x="1077" y="313" width="1" height="25" fill="#737375"/>
<rect x="1081" y="332" width="1" height="79" fill="#737375"/>
<rect x="1085" y="398" width="1" height="36" fill="#737375"/>
<rect x="1089" y="359" width="1" height="107" fill="#737375"/>
<rect x="1093" y="404" width="1" height="49" fill="#737375"/>
<rect x="1097" y="404" width="1" height="48" fill="#737375"/>
<rect x="1101" y="392" width="1" height="37" fill="#737375"/>
<rect x="1105" y="391" width="1" height="127" fill="#737375"/>
<rect x="1110" y="472" width="1" height="87" fill="#737375"/>
<rect x="1114" y="447" width="1" height="59" fill="#737375"/>
<rect x="1118" y="328" width="1" height="134" fill="#737375"/>
<rect x="1122" y="284" width="1" height="101" fill="#737375"/>
<rect x="1126" y="293" width="1" height="78" fill="#737375"/>
<rect x="1130" y="304" width="1" height="68" fill="#737375"/>
<rect x="1134" y="316" width="1" height="56" fill="#737375"/>
<rect x="1138" y="307" width="1" height="85" fill="#737375"/>
<rect x="1142" y="309" width="1" height="73" fill="#737375"/>
<rect x="1146" y="355" width="1" height="75" fill="#737375"/>
<rect x="1151" y="395" width="1" height="84" fill="#737375"/>
<rect x="1155" y="452" width="1" height="58" fill="#737375"/>
<rect x="1159" y="450" width="1" height="46" fill="#737375"/>
<rect x="1163" y="459" width="1" height="52" fill="#737375"/>
<rect x="1167" y="458" width="1" height="34" fill="#737375"/>
<rect x="1171" y="450" width="1" height="62" fill="#737375"/>
<rect x="1175" y="401" width="1" height="125" fill="#737375"/>
<rect x="1179" y="388" width="1" height="87" fill="#737375"/>
<rect x="1183" y="447" width="1" height="37" fill="#737375"/>
<rect x="1188" y="469" width="1" height="31" fill="#737375"/>
<rect x="1192" y="475" width="1" height="64" fill="#737375"/>
<rect x="1196" y="516" width="1" height="122" fill="#737375"/>
<rect x="1200" y="595" width="1" height="49" fill="#737375"/>
<rect x="1204" y="617" width="1" height="67" fill="#737375"/>
<rect x="1208" y="543" width="1" height="88" fill="#737375"/>
<rect x="1212" y="486" width="1" height="85" fill="#737375"/>
<rect x="1216" y="520" width="1" height="47" fill="#737375"/>
<rect x="1220" y="506" width="1" height="66" fill="#737375"/>
<rect x="1225" y="517" width="1" height="37" fill="#737375"/>
<rect x="1229" y="522" width="1" height="88" fill="#737375"/>
<rect x="1233" y="482" width="1" height="200" fill="#737375"/>
<rect x="1237" y="455" width="1" height="68" fill="#737375"/>
<rect x="1241" y="484" width="1" height="116" fill="#737375"/>
<rect x="1245" y="498" width="1" height="105" fill="#737375"/>
<rect x="1249" y="497" width="1" height="78" fill="#737375"/>
<rect x="1253" y="499" width="1" height="64" fill="#737375"/>
<rect x="1257" y="507" width="1" height="89" fill="#737375"/>
<rect x="1262" y="559" width="1" height="75" fill="#737375"/>
<rect x="1266" y="561" width="1" height="51" fill="#737375"/>
<rect x="1270" y="562" width="1" height="107" fill="#737375"/>
<rect x="1274" y="631" width="1" height="75" fill="#737375"/>
<rect x="1278" y="642" width="1" height="69" fill="#737375"/>
<rect x="1282" y="656" width="1" height="80" fill="#737375"/>
<rect x="1286" y="662" width="1" height="81" fill="#737375"/>
<rect x="1290" y="636" width="1" height="76" fill="#737375"/>
<rect x="1294" y="591" width="1" height="74" fill="#737375"/>
<rect x="1298" y="594" width="1" height="51" fill="#737375"/>
<rect x="1303" y="590" width="1" height="49" fill="#737375"/>
<rect x="1307" y="596" width="1" height="70" fill="#737375"/>
<rect x="1311" y="602" width="1" height="53" fill="#737375"/>
<rect x="1315" y="548" width="1" height="79" fill="#737375"/>
<rect x="1319" y="513" width="1" height="78" fill="#737375"/>
<rect x="1323" y="537" width="1" height="37" fill="#737375"/>
<rect x="1327" y="533" width="1" height="69" fill="#737375"/>
<rect x="1331" y="485" width="1" height="79" fill="#737375"/>
<rect x="1335" y="418" width="1" height="93" fill="#737375"/>
<rect x="1340" y="379" width="1" height="71" fill="#737375"/>
<rect x="1344" y="369" width="1" height="51" fill="#737375"/>
<rect x="1348" y="397" width="1" height="49" fill="#737375"/>
<rect x="1352" y="417" width="1" height="43" fill="#737375"/>
<rect x="1356" y="390" width="1" height="86" fill="#737375"/>
<rect x="1360" y="439" width="1" height="63" fill="#737375"/>
<rect x="1364" y="459" width="1" height="39" fill="#737375"/>
<rect x="1368" y="444" width="1" height="57" fill="#737375"/>
<rect x="1372" y="403" width="1" height="89" fill="#737375"/>
<rect x="1377" y="374" width="1" height="55" fill="#737375"/>
<rect x="1381" y="379" width="1" height="55" fill="#737375"/>
<rect x="1385" y="374" width="1" height="62" fill="#737375"/>
<rect x="1389" y="417" width="1" height="95" fill="#737375"/>
<rect x="1393" y="476" width="1" height="36" fill="#737375"/>
<rect x="1397" y="477" width="1" height="70" fill="#737375"/>
<rect x="1401" y="522" width="1" height="49" fill="#737375"/>
<rect x="1405" y="537" width="1" height="34" fill="#737375"/>
<rect x="1409" y="543" width="1" height="46" fill="#737375"/>
<rect x="1413" y="565" width="1" height="32" fill="#737375"/>
<rect x="1418" y="556" width="1" height="49" fill="#737375"/>
<rect x="1422" y="520" width="1" height="53" fill="#737375"/>
<rect x="1426" y="479" width="1" height="53" fill="#737375"/>
<rect x="1430" y="487" width="1" height="27" fill="#737375"/>
<rect x="1434" y="490" width="1" height="36" fill="#737375"/>
<rect x="1438" y="471" width="1" height="56" fill="#737375"/>
<rect x="1442" y="482" width="1" height="92" fill="#737375"/>
<rect x="1446" y="551" width="1" height="36" fill="#737375"/>
<rect x="1450" y="559" width="1" height="24" fill="#737375"/>
<rect x="1455" y="560" width="1" height="42" fill="#737375"/>
<rect x="1459" y="568" width="1" height="24" fill="#737375"/>
<rect x="1463" y="555" width="1" height="60" fill="#737375"/>
<rect x="1467" y="479" width="1" height="109" fill="#737375"/>
<rect x="1471" y="475" width="1" height="35" fill="#737375"/>
<rect x="1475" y="447" width="1" height="61" fill="#737375"/>
<rect x="1479" y="457" width="1" height="39" fill="#737375"/>
<rect x="1483" y="455" width="1" height="87" fill="#737375"/>
<rect x="1487" y="494" width="1" height="31" fill="#737375"/>
<rect x="1492" y="470" width="1" height="43" fill="#737375"/>
<rect x="1496" y="412" width="1" height="93" fill="#737375"/>
<rect x="1500" y="400" width="1" height="64" fill="#737375"/>
<rect x="1504" y="345" width="1" height="121" fill="#737375"/>
<rect x="1508" y="395" width="1" height="45" fill="#737375"/>
<rect x="1512" y="375" width="1" height="57" fill="#737375"/>
<rect x="1516" y="400" width="1" height="55" fill="#737375"/>
<rect x="1520" y="412" width="1" height="47" fill="#737375"/>
<rect x="1524" y="436" width="1" height="73" fill="#737375"/>
<rect x="1528" y="472" width="1" height="33" fill="#737375"/>
<rect x="1533" y="474" width="1" height="32" fill="#737375"/>
<rect x="1537" y="456" width="1" height="34" fill="#737375"/>
<rect x="1541" y="358" width="1" height="117" fill="#737375"/>
<rect x="1545" y="319" width="1" height="61" fill="#737375"/>
<rect x="1549" y="296" width="1" height="52" fill="#737375"/>
<rect x="1553" y="316" width="1" height="74" fill="#737375"/>
<rect x="1557" y="369" width="1" height="68" fill="#737375"/>
<rect x="1561" y="337" width="1" height="60" fill="#737375"/>
<rect x="1565" y="347" width="1" height="80" fill="#737375"/>
<rect x="1570" y="383" width="1" height="82" fill="#737375"/>
<rect x="1574" y="442" width="1" height="35" fill="#737375"/>
<rect x="1578" y="431" width="1" height="55" fill="#737375"/>
<rect x="1582" y="409" width="1" height="43" fill="#737375"/>
<rect x="1586" y="412" width="1" height="51" fill="#737375"/>
<rect x="1590" y="389" width="1" height="56" fill="#737375"/>
<rect x="1594" y="377" width="1" height="56" fill="#737375"/>
<rect x="1598" y="415" width="1" height="69" fill="#737375"/>
<rect x="1602" y="464" width="1" height="33" fill="#737375"/>
<rect x="1607" y="445" width="1" height="47" fill="#737375"/>
<rect x="1611" y="469" width="1" height="35" fill="#737375"/>
<rect x="1615" y="456" width="1" height="90" fill="#737375"/>
<rect x="1619" y="514" width="1" height="53" fill="#737375"/>
<rect x="1623" y="544" width="1" height="36" fill="#737375"/>
<rect x="1627" y="559" width="1" height="35" fill="#737375"/>
<rect x="1631" y="556" width="1" height="45" fill="#737375"/>
<rect x="1635" y="542" width="1" height="42" fill="#737375"/>
<rect x="1639" y="477" width="1" height="94" fill="#737375"/>
<rect x="1643" y="474" width="1" height="75" fill="#737375"/>
<rect x="1648" y="511" width="1" height="40" fill="#737375"/>
<rect x="1652" y="531" width="1" height="68" fill="#737375"/>
<rect x="1656" y="573" width="1" height="63" fill="#737375"/>
<rect x="1660" y="609" width="1" height="55" fill="#737375"/>
<rect x="1664" y="643" width="1" height="63" fill="#737375"/>
<rect x="1668" y="684" width="1" height="43" fill="#737375"/>
<rect x="1672" y="683" width="1" height="77" fill="#737375"/>
<rect x="1676" y="729" width="1" height="70" fill="#737375"/>
<rect x="1680" y="764" width="1" height="44" fill="#737375"/>
<rect x="1685" y="777" width="1" height="29" fill="#737375"/>
<rect x="1689" y="794" width="1" height="67" fill="#737375"/>
<rect x="1693" y="827" width="1" height="38" fill="#737375"/>
<rect x="1697" y="815" width="1" height="55" fill="#737375"/>
<rect x="1701" y="761" width="1" height="101" fill="#737375"/>
<rect x="1705" y="750" width="1" height="86" fill="#737375"/>
<rect x="1709" y="727" width="1" height="77" fill="#737375"/>
<rect x="1713" y="705" width="1" height="68" fill="#737375"/>
<rect x="1717" y="582" width="1" height="164" fill="#737375"/>
<rect x="1722" y="525" width="1" height="128" fill="#737375"/>
<rect x="1726" y="362" width="1" height="184" fill="#737375"/>
<rect x="1730" y="328" width="1" height="145" fill="#737375"/>
<rect x="1734" y="360" width="1" height="113" fill="#737375"/>
<rect x="1738" y="289" width="1" height="153" fill="#737375"/>
<rect x="1742" y="248" width="1" height="83" fill="#737375"/>
<rect x="920" y="393" width="3" height="37" fill="#5b1a13"/>
<rect x="921" y="394" width="1" height="35" fill="#d75442"/>
<rect x="924" y="429" width="3" height="3" fill="#5b1a13"/>
<rect x="925" y="430" width="1" height="1" fill="#d75442"/>
<rect x="928" y="383" width="3" height="49" fill="#225437"/>
<rect x="929" y="384" width="1" height="47" fill="#6ba583"/>
<rect x="932" y="295" width="3" height="92" fill="#225437"/>
<rect x="933" y="296" width="1" height="90" fill="#6ba583"/>
<rect x="936" y="281" width="3" height="14" fill="#225437"/>
<rect x="937" y="282" width="1" height="12" fill="#6ba583"/>
<rect x="940" y="281" width="3" height="38" fill="#5b1a13"/>
<rect x="941" y="282" width="1" height="36" fill="#d75442"/>
<rect x="944" y="252" width="3" height="68" fill="#225437"/>
<rect x="945" y="253" width="1" height="66" fill="#6ba583"/>
<rect x="948" y="184" width="3" height="69" fill="#225437"/>
<rect x="949" y="185" width="1" height="67" fill="#6ba583"/>
<rect x="952" y="197" width="3" height="13" fill="#5b1a13"/>
<rect x="953" y="198" width="1" height="11" fill="#d75442"/>
<rect x="957" y="191" width="3" height="19" fill="#225437"/>
<rect x="958" y="192" width="1" height="17" fill="#6ba583"/>
<rect x="961" y="191" width="3" height="47" fill="#5b1a13"/>
<rect x="962" y="192" width="1" height="45" fill="#d75442"/>
<rect x="965" y="238" width="3" height="14" fill="#5b1a13"/>
<rect x="966" y="239" width="1" height="12" fill="#d75442"/>
<rect x="969" y="251" width="3" height="85" fill="#5b1a13"/>
<rect x="970" y="252" width="1" height="83" fill="#d75442"/>
<rect x="973" y="322" width="3" height="12" fill="#225437"/>
<rect x="974" y="323" width="1" height="10" fill="#6ba583"/>
<rect x="977" y="322" width="3" height="31" fill="#5b1a13"/>
<rect x="978" y="323" width="1" height="29" fill="#d75442"/>
<rect x="981" y="312" width="3" height="41" fill="#225437"/>
<rect x="982" y="313" width="1" height="39" fill="#6ba583"/>
<rect x="985" y="232" width="3" height="80" fill="#225437"/>
<rect x="986" y="233" width="1" height="78" fill="#6ba583"/>
<rect x="989" y="140" width="3" height="94" fill="#225437"/>
<rect x="990" y="141" width="1" height="92" fill="#6ba583"/>
<rect x="994" y="104" width="3" height="35" fill="#225437"/>
<rect x="995" y="105" width="1" height="33" fill="#6ba583"/>
<rect x="998" y="104" width="3" height="39" fill="#5b1a13"/>
<rect x="999" y="105" width="1" height="37" fill="#d75442"/>
<rect x="1002" y="140" width="3" height="4" fill="#225437"/>
<rect x="1003" y="141" width="1" height="2" fill="#6ba583"/>
<rect x="1006" y="140" width="3" height="2" fill="#225437"/>
<rect x="1010" y="140" width="3" height="2" fill="#5b1a13"/>
<rect x="1014" y="150" width="3" height="92" fill="#5b1a13"/>
<rect x="1015" y="151" width="1" height="90" fill="#d75442"/>
<rect x="1018" y="241" width="3" height="2" fill="#5b1a13"/>
<rect x="1022" y="241" width="3" height="9" fill="#5b1a13"/>
<rect x="1023" y="242" width="1" height="7" fill="#d75442"/>
<rect x="1026" y="242" width="3" height="8" fill="#225437"/>
<rect x="1027" y="243" width="1" height="6" fill="#6ba583"/>
<rect x="1030" y="242" width="3" height="74" fill="#5b1a13"/>
<rect x="1031" y="243" width="1" height="72" fill="#d75442"/>
<rect x="1035" y="312" width="3" height="16" fill="#5b1a13"/>
<rect x="1036" y="313" width="1" height="14" fill="#d75442"/>
<rect x="1039" y="327" width="3" height="9" fill="#5b1a13"/>
<rect x="1040" y="328" width="1" height="7" fill="#d75442"/>
<rect x="1043" y="283" width="3" height="53" fill="#225437"/>
<rect x="1044" y="284" width="1" height="51" fill="#6ba583"/>
<rect x="1047" y="278" width="3" height="4" fill="#225437"/>
<rect x="1048" y="279" width="1" height="2" fill="#6ba583"/>
<rect x="1051" y="259" width="3" height="21" fill="#225437"/>
<rect x="1052" y="260" width="1" height="19" fill="#6ba583"/>
<rect x="1055" y="260" width="3" height="15" fill="#5b1a13"/>
<rect x="1056" y="261" width="1" height="13" fill="#d75442"/>
<rect x="1059" y="274" width="3" height="60" fill="#5b1a13"/>
<rect x="1060" y="275" width="1" height="58" fill="#d75442"/>
<rect x="1063" y="314" width="3" height="19" fill="#225437"/>
<rect x="1064" y="315" width="1" height="17" fill="#6ba583"/>
<rect x="1067" y="251" width="3" height="65" fill="#225437"/>
<rect x="1068" y="252" width="1" height="63" fill="#6ba583"/>
<rect x="1072" y="251" width="3" height="70" fill="#5b1a13"/>
<rect x="1073" y="252" width="1" height="68" fill="#d75442"/>
<rect x="1076" y="328" width="3" height="6" fill="#5b1a13"/>
<rect x="1077" y="329" width="1" height="4" fill="#d75442"/>
<rect x="1080" y="333" width="3" height="71" fill="#5b1a13"/>
<rect x="1081" y="334" width="1" height="69" fill="#d75442"/>
<rect x="1084" y="403" width="3" height="15" fill="#5b1a13"/>
<rect x="1085" y="404" width="1" height="13" fill="#d75442"/>
<rect x="1088" y="410" width="3" height="9" fill="#225437"/>
<rect x="1089" y="411" width="1" height="7" fill="#6ba583"/>
<rect x="1092" y="409" width="3" height="27" fill="#5b1a13"/>
<rect x="1093" y="410" width="1" height="25" fill="#d75442"/>
<rect x="1096" y="412" width="3" height="26" fill="#225437"/>
<rect x="1097" y="413" width="1" height="24" fill="#6ba583"/>
<rect x="1100" y="400" width="3" height="13" fill="#225437"/>
<rect x="1101" y="401" width="1" height="11" fill="#6ba583"/>
<rect x="1104" y="400" width="3" height="98" fill="#5b1a13"/>
<rect x="1105" y="401" width="1" height="96" fill="#d75442"/>
<rect x="1109" y="486" width="3" height="12" fill="#225437"/>
<rect x="1110" y="487" width="1" height="10" fill="#6ba583"/>
<rect x="1113" y="459" width="3" height="27" fill="#225437"/>
<rect x="1114" y="460" width="1" height="25" fill="#6ba583"/>
<rect x="1117" y="341" width="3" height="119" fill="#225437"/>
<rect x="1118" y="342" width="1" height="117" fill="#6ba583"/>
<rect x="1121" y="341" width="3" height="5" fill="#5b1a13"/>
<rect x="1122" y="342" width="1" height="3" fill="#d75442"/>
<rect x="1125" y="346" width="3" height="2" fill="#225437"/>
<rect x="1129" y="346" width="3" height="24" fill="#5b1a13"/>
<rect x="1130" y="347" width="1" height="22" fill="#d75442"/>
<rect x="1133" y="347" width="3" height="23" fill="#225437"/>
<rect x="1134" y="348" width="1" height="21" fill="#6ba583"/>
<rect x="1137" y="328" width="3" height="17" fill="#225437"/>
<rect x="1138" y="329" width="1" height="15" fill="#6ba583"/>
<rect x="1141" y="328" width="3" height="52" fill="#5b1a13"/>
<rect x="1142" y="329" width="1" height="50" fill="#d75442"/>
<rect x="1145" y="380" width="3" height="41" fill="#5b1a13"/>
<rect x="1146" y="381" width="1" height="39" fill="#d75442"/>
<rect x="1150" y="420" width="3" height="40" fill="#5b1a13"/>
<rect x="1151" y="421" width="1" height="38" fill="#d75442"/>
<rect x="1154" y="459" width="3" height="21" fill="#5b1a13"/>
<rect x="1155" y="460" width="1" height="19" fill="#d75442"/>
<rect x="1158" y="478" width="3" height="16" fill="#5b1a13"/>
<rect x="1159" y="479" width="1" height="14" fill="#d75442"/>
<rect x="1162" y="468" width="3" height="27" fill="#225437"/>
<rect x="1163" y="469" width="1" height="25" fill="#6ba583"/>
<rect x="1166" y="468" width="3" height="20" fill="#5b1a13"/>
<rect x="1167" y="469" width="1" height="18" fill="#d75442"/>
<rect x="1170" y="486" width="3" height="7" fill="#5b1a13"/>
<rect x="1171" y="487" width="1" height="5" fill="#d75442"/>
<rect x="1174" y="421" width="3" height="73" fill="#225437"/>
<rect x="1175" y="422" width="1" height="71" fill="#6ba583"/>
<rect x="1178" y="405" width="3" height="63" fill="#5b1a13"/>
<rect x="1179" y="406" width="1" height="61" fill="#d75442"/>
<rect x="1182" y="467" width="3" height="13" fill="#5b1a13"/>
<rect x="1183" y="468" width="1" height="11" fill="#d75442"/>
<rect x="1187" y="479" width="3" height="16" fill="#5b1a13"/>
<rect x="1188" y="480" width="1" height="14" fill="#d75442"/>
<rect x="1191" y="495" width="3" height="26" fill="#5b1a13"/>
<rect x="1192" y="496" width="1" height="24" fill="#d75442"/>
<rect x="1195" y="520" width="3" height="86" fill="#5b1a13"/>
<rect x="1196" y="521" width="1" height="84" fill="#d75442"/>
<rect x="1199" y="603" width="3" height="29" fill="#5b1a13"/>
<rect x="1200" y="604" width="1" height="27" fill="#d75442"/>
<rect x="1203" y="625" width="3" height="7" fill="#225437"/>
<rect x="1204" y="626" width="1" height="5" fill="#6ba583"/>
<rect x="1207" y="547" width="3" height="79" fill="#225437"/>
<rect x="1208" y="548" width="1" height="77" fill="#6ba583"/>
<rect x="1211" y="547" width="3" height="2" fill="#5b1a13"/>
<rect x="1215" y="548" width="3" height="12" fill="#5b1a13"/>
<rect x="1216" y="549" width="1" height="10" fill="#d75442"/>
<rect x="1219" y="532" width="3" height="28" fill="#225437"/>
<rect x="1220" y="533" width="1" height="26" fill="#6ba583"/>
<rect x="1224" y="532" width="3" height="6" fill="#5b1a13"/>
<rect x="1225" y="533" width="1" height="4" fill="#d75442"/>
<rect x="1228" y="537" width="3" height="42" fill="#5b1a13"/>
<rect x="1229" y="538" width="1" height="40" fill="#d75442"/>
<rect x="1232" y="512" width="3" height="67" fill="#225437"/>
<rect x="1233" y="513" width="1" height="65" fill="#6ba583"/>
<rect x="1236" y="501" width="3" height="11" fill="#225437"/>
<rect x="1237" y="502" width="1" height="9" fill="#6ba583"/>
<rect x="1240" y="500" width="3" height="91" fill="#5b1a13"/>
<rect x="1241" y="501" width="1" height="89" fill="#d75442"/>
<rect x="1244" y="501" width="3" height="90" fill="#225437"/>
<rect x="1245" y="502" width="1" height="88" fill="#6ba583"/>
<rect x="1248" y="502" width="3" height="53" fill="#5b1a13"/>
<rect x="1249" y="503" width="1" height="51" fill="#d75442"/>
<rect x="1252" y="540" width="3" height="15" fill="#225437"/>
<rect x="1253" y="541" width="1" height="13" fill="#6ba583"/>
<rect x="1256" y="540" width="3" height="30" fill="#5b1a13"/>
<rect x="1257" y="541" width="1" height="28" fill="#d75442"/>
<rect x="1261" y="571" width="3" height="30" fill="#5b1a13"/>
<rect x="1262" y="572" width="1" height="28" fill="#d75442"/>
<rect x="1265" y="566" width="3" height="35" fill="#225437"/>
<rect x="1266" y="567" width="1" height="33" fill="#6ba583"/>
<rect x="1269" y="566" width="3" height="96" fill="#5b1a13"/>
<rect x="1270" y="567" width="1" height="94" fill="#d75442"/>
<rect x="1273" y="662" width="3" height="30" fill="#5b1a13"/>
<rect x="1274" y="663" width="1" height="28" fill="#d75442"/>
<rect x="1277" y="665" width="3" height="27" fill="#225437"/>
<rect x="1278" y="666" width="1" height="25" fill="#6ba583"/>
<rect x="1281" y="663" width="3" height="57" fill="#5b1a13"/>
<rect x="1282" y="664" width="1" height="55" fill="#d75442"/>
<rect x="1285" y="675" width="3" height="45" fill="#225437"/>
<rect x="1286" y="676" width="1" height="43" fill="#6ba583"/>
<rect x="1289" y="642" width="3" height="34" fill="#225437"/>
<rect x="1290" y="643" width="1" height="32" fill="#6ba583"/>
<rect x="1293" y="636" width="3" height="7" fill="#225437"/>
<rect x="1294" y="637" width="1" height="5" fill="#6ba583"/>
<rect x="1297" y="619" width="3" height="17" fill="#225437"/>
<rect x="1298" y="620" width="1" height="15" fill="#6ba583"/>
<rect x="1302" y="615" width="3" height="13" fill="#5b1a13"/>
<rect x="1303" y="616" width="1" height="11" fill="#d75442"/>
<rect x="1306" y="628" width="3" height="18" fill="#5b1a13"/>
<rect x="1307" y="629" width="1" height="16" fill="#d75442"/>
<rect x="1310" y="626" width="3" height="20" fill="#225437"/>
<rect x="1311" y="627" width="1" height="18" fill="#6ba583"/>
<rect x="1314" y="584" width="3" height="42" fill="#225437"/>
<rect x="1315" y="585" width="1" height="40" fill="#6ba583"/>
<rect x="1318" y="547" width="3" height="37" fill="#225437"/>
<rect x="1319" y="548" width="1" height="35" fill="#6ba583"/>
<rect x="1322" y="554" width="3" height="6" fill="#5b1a13"/>
<rect x="1323" y="555" width="1" height="4" fill="#d75442"/>
<rect x="1326" y="550" width="3" height="9" fill="#225437"/>
<rect x="1327" y="551" width="1" height="7" fill="#6ba583"/>
<rect x="1330" y="503" width="3" height="47" fill="#225437"/>
<rect x="1331" y="504" width="1" height="45" fill="#6ba583"/>
<rect x="1334" y="437" width="3" height="66" fill="#225437"/>
<rect x="1335" y="438" width="1" height="64" fill="#6ba583"/>
<rect x="1339" y="381" width="3" height="57" fill="#225437"/>
<rect x="1340" y="382" width="1" height="55" fill="#6ba583"/>
<rect x="1343" y="394" width="3" height="14" fill="#5b1a13"/>
<rect x="1344" y="395" width="1" height="12" fill="#d75442"/>
<rect x="1347" y="406" width="3" height="30" fill="#5b1a13"/>
<rect x="1348" y="407" width="1" height="28" fill="#d75442"/>
<rect x="1351" y="429" width="3" height="7" fill="#225437"/>
<rect x="1352" y="430" width="1" height="5" fill="#6ba583"/>
<rect x="1355" y="429" width="3" height="34" fill="#5b1a13"/>
<rect x="1356" y="430" width="1" height="32" fill="#d75442"/>
<rect x="1359" y="462" width="3" height="32" fill="#5b1a13"/>
<rect x="1360" y="463" width="1" height="30" fill="#d75442"/>
<rect x="1363" y="467" width="3" height="25" fill="#225437"/>
<rect x="1364" y="468" width="1" height="23" fill="#6ba583"/>
<rect x="1367" y="452" width="3" height="16" fill="#225437"/>
<rect x="1368" y="453" width="1" height="14" fill="#6ba583"/>
<rect x="1371" y="405" width="3" height="48" fill="#225437"/>
<rect x="1372" y="406" width="1" height="46" fill="#6ba583"/>
<rect x="1376" y="404" width="3" height="2" fill="#225437"/>
<rect x="1380" y="388" width="3" height="17" fill="#225437"/>
<rect x="1381" y="389" width="1" height="15" fill="#6ba583"/>
<rect x="1384" y="384" width="3" height="49" fill="#5b1a13"/>
<rect x="1385" y="385" width="1" height="47" fill="#d75442"/>
<rect x="1388" y="432" width="3" height="67" fill="#5b1a13"/>
<rect x="1389" y="433" width="1" height="65" fill="#d75442"/>
<rect x="1392" y="499" width="3" height="11" fill="#5b1a13"/>
<rect x="1393" y="500" width="1" height="9" fill="#d75442"/>
<rect x="1396" y="509" width="3" height="20" fill="#5b1a13"/>
<rect x="1397" y="510" width="1" height="18" fill="#d75442"/>
<rect x="1400" y="529" width="3" height="41" fill="#5b1a13"/>
<rect x="1401" y="530" width="1" height="39" fill="#d75442"/>
<rect x="1404" y="550" width="3" height="14" fill="#225437"/>
<rect x="1405" y="551" width="1" height="12" fill="#6ba583"/>
<rect x="1408" y="550" width="3" height="31" fill="#5b1a13"/>
<rect x="1409" y="551" width="1" height="29" fill="#d75442"/>
<rect x="1412" y="579" width="3" height="4" fill="#5b1a13"/>
<rect x="1413" y="580" width="1" height="2" fill="#d75442"/>
<rect x="1417" y="565" width="3" height="19" fill="#225437"/>
<rect x="1418" y="566" width="1" height="17" fill="#6ba583"/>
<rect x="1421" y="529" width="3" height="36" fill="#225437"/>
<rect x="1422" y="530" width="1" height="34" fill="#6ba583"/>
<rect x="1425" y="501" width="3" height="31" fill="#225437"/>
<rect x="1426" y="502" width="1" height="29" fill="#6ba583"/>
<rect x="1429" y="493" width="3" height="9" fill="#225437"/>
<rect x="1430" y="494" width="1" height="7" fill="#6ba583"/>
<rect x="1433" y="494" width="3" height="9" fill="#5b1a13"/>
<rect x="1434" y="495" width="1" height="7" fill="#d75442"/>
<rect x="1437" y="501" width="3" height="18" fill="#5b1a13"/>
<rect x="1438" y="502" width="1" height="16" fill="#d75442"/>
<rect x="1441" y="518" width="3" height="51" fill="#5b1a13"/>
<rect x="1442" y="519" width="1" height="49" fill="#d75442"/>
<rect x="1445" y="571" width="3" height="4" fill="#5b1a13"/>
<rect x="1446" y="572" width="1" height="2" fill="#d75442"/>
<rect x="1449" y="565" width="3" height="10" fill="#225437"/>
<rect x="1450" y="566" width="1" height="8" fill="#6ba583"/>
<rect x="1454" y="565" width="3" height="27" fill="#5b1a13"/>
<rect x="1455" y="566" width="1" height="25" fill="#d75442"/>
<rect x="1458" y="580" width="3" height="12" fill="#225437"/>
<rect x="1459" y="581" width="1" height="10" fill="#6ba583"/>
<rect x="1462" y="572" width="3" height="10" fill="#225437"/>
<rect x="1463" y="573" width="1" height="8" fill="#6ba583"/>
<rect x="1466" y="493" width="3" height="69" fill="#225437"/>
<rect x="1467" y="494" width="1" height="67" fill="#6ba583"/>
<rect x="1470" y="490" width="3" height="4" fill="#225437"/>
<rect x="1471" y="491" width="1" height="2" fill="#6ba583"/>
<rect x="1474" y="490" width="3" height="5" fill="#5b1a13"/>
<rect x="1475" y="491" width="1" height="3" fill="#d75442"/>
<rect x="1478" y="461" width="3" height="33" fill="#225437"/>
<rect x="1479" y="462" width="1" height="31" fill="#6ba583"/>
<rect x="1482" y="462" width="3" height="55" fill="#5b1a13"/>
<rect x="1483" y="463" width="1" height="53" fill="#d75442"/>
<rect x="1486" y="511" width="3" height="9" fill="#225437"/>
<rect x="1487" y="512" width="1" height="7" fill="#6ba583"/>
<rect x="1491" y="477" width="3" height="36" fill="#225437"/>
<rect x="1492" y="478" width="1" height="34" fill="#6ba583"/>
<rect x="1495" y="430" width="3" height="46" fill="#225437"/>
<rect x="1496" y="431" width="1" height="44" fill="#6ba583"/>
<rect x="1499" y="431" width="3" height="4" fill="#5b1a13"/>
<rect x="1500" y="432" width="1" height="2" fill="#d75442"/>
<rect x="1503" y="433" width="3" height="12" fill="#5b1a13"/>
<rect x="1504" y="434" width="1" height="10" fill="#d75442"/>
<rect x="1507" y="413" width="3" height="23" fill="#225437"/>
<rect x="1508" y="414" width="1" height="21" fill="#6ba583"/>
<rect x="1511" y="406" width="3" height="8" fill="#225437"/>
<rect x="1512" y="407" width="1" height="6" fill="#6ba583"/>
<rect x="1515" y="406" width="3" height="44" fill="#5b1a13"/>
<rect x="1516" y="407" width="1" height="42" fill="#d75442"/>
<rect x="1519" y="442" width="3" height="8" fill="#225437"/>
<rect x="1520" y="443" width="1" height="6" fill="#6ba583"/>
<rect x="1523" y="442" width="3" height="55" fill="#5b1a13"/>
<rect x="1524" y="443" width="1" height="53" fill="#d75442"/>
<rect x="1527" y="481" width="3" height="11" fill="#225437"/>
<rect x="1528" y="482" width="1" height="9" fill="#6ba583"/>
<rect x="1532" y="480" width="3" height="6" fill="#5b1a13"/>
<rect x="1533" y="481" width="1" height="4" fill="#d75442"/>
<rect x="1536" y="472" width="3" height="15" fill="#225437"/>
<rect x="1537" y="473" width="1" height="13" fill="#6ba583"/>
<rect x="1540" y="376" width="3" height="97" fill="#225437"/>
<rect x="1541" y="377" width="1" height="95" fill="#6ba583"/>
<rect x="1544" y="346" width="3" height="29" fill="#225437"/>
<rect x="1545" y="347" width="1" height="27" fill="#6ba583"/>
<rect x="1548" y="317" width="3" height="30" fill="#225437"/>
<rect x="1549" y="318" width="1" height="28" fill="#6ba583"/>
<rect x="1552" y="317" width="3" height="62" fill="#5b1a13"/>
<rect x="1553" y="318" width="1" height="60" fill="#d75442"/>
<rect x="1556" y="378" width="3" height="16" fill="#5b1a13"/>
<rect x="1557" y="379" width="1" height="14" fill="#d75442"/>
<rect x="1560" y="348" width="3" height="39" fill="#225437"/>
<rect x="1561" y="349" width="1" height="37" fill="#6ba583"/>
<rect x="1564" y="348" width="3" height="56" fill="#5b1a13"/>
<rect x="1565" y="349" width="1" height="54" fill="#d75442"/>
<rect x="1569" y="402" width="3" height="58" fill="#5b1a13"/>
<rect x="1570" y="403" width="1" height="56" fill="#d75442"/>
<rect x="1573" y="460" width="3" height="2" fill="#225437"/>
<rect x="1577" y="441" width="3" height="20" fill="#225437"/>
<rect x="1578" y="442" width="1" height="18" fill="#6ba583"/>
<rect x="1581" y="425" width="3" height="27" fill="#225437"/>
<rect x="1582" y="426" width="1" height="25" fill="#6ba583"/>
<rect x="1585" y="425" width="3" height="10" fill="#5b1a13"/>
<rect x="1586" y="426" width="1" height="8" fill="#d75442"/>
<rect x="1589" y="406" width="3" height="29" fill="#225437"/>
<rect x="1590" y="407" width="1" height="27" fill="#6ba583"/>
<rect x="1593" y="406" width="3" height="17" fill="#5b1a13"/>
<rect x="1594" y="407" width="1" height="15" fill="#d75442"/>
<rect x="1597" y="423" width="3" height="55" fill="#5b1a13"/>
<rect x="1598" y="424" width="1" height="53" fill="#d75442"/>
<rect x="1601" y="474" width="3" height="5" fill="#225437"/>
<rect x="1602" y="475" width="1" height="3" fill="#6ba583"/>
<rect x="1606" y="474" width="3" height="16" fill="#5b1a13"/>
<rect x="1607" y="475" width="1" height="14" fill="#d75442"/>
<rect x="1610" y="476" width="3" height="14" fill="#225437"/>
<rect x="1611" y="477" width="1" height="12" fill="#6ba583"/>
<rect x="1614" y="476" width="3" height="52" fill="#5b1a13"/>
<rect x="1615" y="477" width="1" height="50" fill="#d75442"/>
<rect x="1618" y="527" width="3" height="29" fill="#5b1a13"/>
<rect x="1619" y="528" width="1" height="27" fill="#d75442"/>
<rect x="1622" y="553" width="3" height="16" fill="#5b1a13"/>
<rect x="1623" y="554" width="1" height="14" fill="#d75442"/>
<rect x="1626" y="563" width="3" height="5" fill="#225437"/>
<rect x="1627" y="564" width="1" height="3" fill="#6ba583"/>
<rect x="1630" y="563" width="3" height="16" fill="#5b1a13"/>
<rect x="1631" y="564" width="1" height="14" fill="#d75442"/>
<rect x="1634" y="552" width="3" height="27" fill="#225437"/>
<rect x="1635" y="553" width="1" height="25" fill="#6ba583"/>
<rect x="1638" y="478" width="3" height="75" fill="#225437"/>
<rect x="1639" y="479" width="1" height="73" fill="#6ba583"/>
<rect x="1642" y="474" width="3" height="44" fill="#5b1a13"/>
<rect x="1643" y="475" width="1" height="42" fill="#d75442"/>
<rect x="1647" y="517" width="3" height="19" fill="#5b1a13"/>
<rect x="1648" y="518" width="1" height="17" fill="#d75442"/>
<rect x="1651" y="536" width="3" height="57" fill="#5b1a13"/>
<rect x="1652" y="537" width="1" height="55" fill="#d75442"/>
<rect x="1655" y="592" width="3" height="22" fill="#5b1a13"/>
<rect x="1656" y="593" width="1" height="20" fill="#d75442"/>
<rect x="1659" y="613" width="3" height="45" fill="#5b1a13"/>
<rect x="1660" y="614" width="1" height="43" fill="#d75442"/>
<rect x="1663" y="662" width="3" height="40" fill="#5b1a13"/>
<rect x="1664" y="663" width="1" height="38" fill="#d75442"/>
<rect x="1667" y="697" width="3" height="6" fill="#225437"/>
<rect x="1668" y="698" width="1" height="4" fill="#6ba583"/>
<rect x="1671" y="697" width="3" height="55" fill="#5b1a13"/>
<rect x="1672" y="698" width="1" height="53" fill="#d75442"/>
<rect x="1675" y="750" width="3" height="43" fill="#5b1a13"/>
<rect x="1676" y="751" width="1" height="41" fill="#d75442"/>
<rect x="1679" y="792" width="3" height="4" fill="#5b1a13"/>
<rect x="1680" y="793" width="1" height="2" fill="#d75442"/>
<rect x="1684" y="790" width="3" height="9" fill="#5b1a13"/>
<rect x="1685" y="791" width="1" height="7" fill="#d75442"/>
<rect x="1688" y="798" width="3" height="56" fill="#5b1a13"/>
<rect x="1689" y="799" width="1" height="54" fill="#d75442"/>
<rect x="1692" y="837" width="3" height="17" fill="#225437"/>
<rect x="1693" y="838" width="1" height="15" fill="#6ba583"/>
<rect x="1696" y="837" width="3" height="26" fill="#5b1a13"/>
<rect x="1697" y="838" width="1" height="24" fill="#d75442"/>
<rect x="1700" y="780" width="3" height="82" fill="#225437"/>
<rect x="1701" y="781" width="1" height="80" fill="#6ba583"/>
<rect x="1704" y="775" width="3" height="50" fill="#225437"/>
<rect x="1705" y="776" width="1" height="48" fill="#6ba583"/>
<rect x="1708" y="739" width="3" height="37" fill="#225437"/>
<rect x="1709" y="740" width="1" height="35" fill="#6ba583"/>
<rect x="1712" y="739" width="3" height="2" fill="#5b1a13"/>
<rect x="1716" y="590" width="3" height="150" fill="#225437"/>
<rect x="1717" y="591" width="1" height="148" fill="#6ba583"/>
<rect x="1721" y="555" width="3" height="37" fill="#225437"/>
<rect x="1722" y="556" width="1" height="35" fill="#6ba583"/>
<rect x="1725" y="426" width="3" height="110" fill="#225437"/>
<rect x="1726" y="427" width="1" height="108" fill="#6ba583"/>
<rect x="1729" y="382" width="3" height="44" fill="#225437"/>
<rect x="1730" y="383" width="1" height="42" fill="#6ba583"/>
<rect x="1733" y="382" width="3" height="44" fill="#5b1a13"/>
<rect x="1734" y="383" width="1" height="42" fill="#d75442"/>
<rect x="1737" y="298" width="3" height="128" fill="#225437"/>
<rect x="1738" y="299" width="1" height="126" fill="#6ba583"/>
<rect x="1741" y="254" width="3" height="46" fill="#225437"/>
<rect x="1742" y="255" width="1" height="44" fill="#6ba583"/>
</g>
<rect x="919" y="43" width="908" height="1" fill="#4f4f4f"/>
<rect x="919" y="941" width="908" height="1" fill="#4f4f4f"/>
<rect x="919" y="43" width="1" height="899" fill="#4f4f4f"/>
<rect x="1826" y="43" width="1" height="899" fill="#4f4f4f"/>
<rect x="1770" y="43" width="1" height="899" fill="#4f4f4f"/>
<rect x="919" y="914" width="908" height="1" fill="#4f4f4f"/>
<rect x="1771" y="102" width="4" height="1" fill="#4f4f4f"/>
<text x="1779.2" y="107" class="pl">1.14000</text>
<rect x="1771" y="162" width="4" height="1" fill="#4f4f4f"/>
<text x="1779.2" y="167" class="pl">1.13500</text>
<rect x="1771" y="211" width="4" height="1" fill="#4f4f4f"/>
<text x="1779.2" y="216" class="pl">1.13100</text>
<rect x="1771" y="260" width="4" height="1" fill="#4f4f4f"/>
<text x="1779.2" y="265" class="pl">1.12700</text>
<rect x="1771" y="308" width="4" height="1" fill="#4f4f4f"/>
<text x="1779.2" y="313" class="pl">1.12300</text>
<rect x="1771" y="356" width="4" height="1" fill="#4f4f4f"/>
<text x="1779.2" y="361" class="pl">1.11900</text>
<rect x="1771" y="405" width="4" height="1" fill="#4f4f4f"/>
<text x="1779.2" y="410" class="pl">1.11500</text>
<rect x="1771" y="454" width="4" height="1" fill="#4f4f4f"/>
<text x="1779.2" y="459" class="pl">1.11100</text>
<rect x="1771" y="503" width="4" height="1" fill="#4f4f4f"/>
<text x="1779.2" y="508" class="pl">1.10700</text>
<rect x="1771" y="553" width="4" height="1" fill="#4f4f4f"/>
<text x="1779.2" y="558" class="pl">1.10300</text>
<rect x="1771" y="591" width="4" height="1" fill="#4f4f4f"/>
<text x="1779.2" y="596" class="pl">1.10000</text>
<rect x="1771" y="628" width="4" height="1" fill="#4f4f4f"/>
<text x="1779.2" y="633" class="pl">1.09700</text>
<rect x="1771" y="665" width="4" height="1" fill="#4f4f4f"/>
<text x="1779.2" y="670" class="pl">1.09400</text>
<rect x="1771" y="703" width="4" height="1" fill="#4f4f4f"/>
<text x="1779.2" y="708" class="pl">1.09100</text>
<rect x="1771" y="740" width="4" height="1" fill="#4f4f4f"/>
<text x="1779.2" y="745" class="pl">1.08800</text>
<rect x="1771" y="772" width="4" height="1" fill="#4f4f4f"/>
<text x="1779.2" y="777" class="pl">1.08550</text>
<rect x="1771" y="804" width="4" height="1" fill="#4f4f4f"/>
<text x="1779.2" y="809" class="pl">1.08300</text>
<rect x="1771" y="835" width="4" height="1" fill="#4f4f4f"/>
<text x="1779.2" y="840" class="pl">1.08050</text>
<rect x="1771" y="866" width="4" height="1" fill="#4f4f4f"/>
<text x="1779.2" y="871" class="pl">1.07800</text>
<rect x="1771" y="896" width="4" height="1" fill="#4f4f4f"/>
<text x="1779.2" y="901" class="pl">1.07570</text>
<rect x="934" y="915" width="1" height="3" fill="#4f4f4f"/>
<rect x="1016" y="915" width="1" height="3" fill="#4f4f4f"/>
<rect x="1111" y="915" width="1" height="3" fill="#4f4f4f"/>
<rect x="1201" y="915" width="1" height="3" fill="#4f4f4f"/>
<rect x="1287" y="915" width="1" height="3" fill="#4f4f4f"/>
<rect x="1382" y="915" width="1" height="3" fill="#4f4f4f"/>
<rect x="1468" y="915" width="1" height="3" fill="#4f4f4f"/>
<rect x="1554" y="915" width="1" height="3" fill="#4f4f4f"/>
<rect x="1645" y="915" width="1" height="3" fill="#4f4f4f"/>
<rect x="1727" y="915" width="1" height="3" fill="#4f4f4f"/>
<text x="934.5" y="933" class="tl" text-anchor="middle" clip-path="url(#tcr)">Cze</text>
<text x="1016.5" y="933" class="tl" text-anchor="middle" clip-path="url(#tcr)">Lip</text>
<text x="1111.5" y="933" class="tl" text-anchor="middle" clip-path="url(#tcr)">Sie</text>
<text x="1201.5" y="933" class="tl" text-anchor="middle" clip-path="url(#tcr)">Wrz</text>
<text x="1287.5" y="933" class="tl" text-anchor="middle" clip-path="url(#tcr)">Paź</text>
<text x="1382.5" y="933" class="tl" text-anchor="middle" clip-path="url(#tcr)">Lis</text>
<text x="1468.5" y="933" class="tl" text-anchor="middle" clip-path="url(#tcr)">Gru</text>
<text x="1554.5" y="933" class="tlb" text-anchor="middle" clip-path="url(#tcr)">2020</text>
<text x="1645.5" y="933" class="tl" text-anchor="middle" clip-path="url(#tcr)">Lut</text>
<text x="1727.5" y="933" class="tl" text-anchor="middle" clip-path="url(#tcr)">Mrz.</text>
<text x="928.5" y="64.7" class="tt" textLength="161.6" lengthAdjust="spacingAndGlyphs">Euro / Dolar USA, 1D, FXCM</text>
<text x="928.5" y="81.7" class="ma" textLength="86.3" lengthAdjust="spacingAndGlyphs">MA (200, close)</text>
<line x1="1548.5" y1="296.5" x2="1768" y2="296.5" stroke="#ff9800" stroke-width="2" stroke-dasharray="4 2" shape-rendering="geometricPrecision"/>
<line x1="1696.5" y1="870.5" x2="1768" y2="870.5" stroke="#ff9800" stroke-width="2" stroke-dasharray="4 2" shape-rendering="geometricPrecision"/>
<rect x="857" y="727" width="56" height="17" fill="#d75442"/>
<rect x="857" y="735" width="4" height="1" fill="#fff"/>
<text x="866.5" y="739.2" class="pl" style="fill:#fff">105.746</text>
<rect x="1770" y="245" width="56" height="17" fill="#6ba583"/>
<rect x="1770" y="253" width="4" height="1" fill="#fff"/>
<text x="1779.5" y="257.2" class="pl" style="fill:#fff">1.12753</text>
<rect x="1770" y="288" width="56" height="17" fill="#ff9800"/>
<rect x="1770" y="296" width="4" height="1" fill="#fff"/>
<text x="1779.5" y="300.2" class="pl" style="fill:#fff">1.12393</text>
<rect x="1770" y="862" width="56" height="17" fill="#ff9800"/>
<rect x="1770" y="870" width="4" height="1" fill="#fff"/>
<text x="1779.5" y="874.2" class="pl" style="fill:#fff">1.07779</text>
<g shape-rendering="geometricPrecision">
<path d="M8.2,967.1 C6.3,967.1 5.9,965.4 5.9,962.6 C5.9,960.2 7.4,958.6 9.6,958.3 C10.2,954.6 13.2,951.8 16.9,951.8 C20.2,951.8 22.3,953.6 23.3,955.9 C24.2,955.6 25.6,955.8 26.8,956.4 C28,957.1 28.7,958.3 29.1,959.5 C30.9,960.1 32,961.6 32,963.5 C32,965.6 30.6,967.1 28.6,967.1 Z" fill="#2196f3"/>
<polyline points="6.4,965.3 15.7,958.1 22.1,963.3 28.2,956.6" fill="none" stroke="#fff" stroke-width="1.1"/>
<circle cx="15.7" cy="958.1" r="1.9" fill="#fff"/>
<circle cx="22.1" cy="963.3" r="1.9" fill="#fff"/>
</g>
<text x="34.0" y="963.8" class="lg" textLength="71.0" lengthAdjust="spacingAndGlyphs">TradingView</text>
</svg>
</body></html>
